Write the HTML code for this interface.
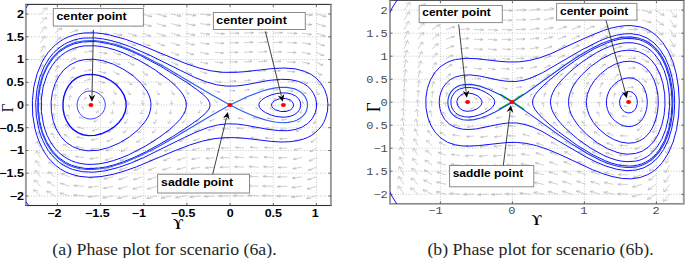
<!DOCTYPE html>
<html><head><meta charset="utf-8"><title>Phase plots</title>
<style>html,body{margin:0;padding:0;background:#fff;width:685px;height:258px;overflow:hidden}svg{display:block}</style>
</head><body>
<svg width="685" height="258" viewBox="0 0 685 258">
<defs><clipPath id="ca"><rect x="25.90" y="4.40" width="305.00" height="201.10"/></clipPath><clipPath id="cb"><rect x="390.00" y="0.00" width="293.80" height="203.80"/></clipPath><clipPath id="cg"><ellipse cx="512" cy="102" rx="17" ry="11"/></clipPath></defs>
<rect width="685" height="258" fill="#fff"/>
<rect x="24.95" y="3.85" width="306.90" height="1.1" fill="#303030"/><rect x="24.95" y="204.95" width="306.90" height="1.1" fill="#303030"/><rect x="24.95" y="4.40" width="1.9" height="201.10" fill="#9a9a9a"/><rect x="329.95" y="4.40" width="1.9" height="201.10" fill="#9a9a9a"/>
<rect x="389.05" y="0.00" width="295.70" height="0.9" fill="#404040"/><rect x="389.05" y="203.00" width="295.70" height="1.6" fill="#8a8a8a"/><rect x="389.05" y="0.50" width="1.9" height="203.30" fill="#9a9a9a"/><rect x="682.85" y="0.50" width="1.9" height="203.30" fill="#9a9a9a"/>
<g clip-path="url(#ca)">
<path d="M57.4,4.4V205.5M100.6,4.4V205.5M143.8,4.4V205.5M186.9,4.4V205.5M230.1,4.4V205.5M273.3,4.4V205.5M316.4,4.4V205.5M25.9,196.0H330.9M25.9,173.2H330.9M25.9,150.5H330.9M25.9,127.7H330.9M25.9,105.0H330.9M25.9,82.3H330.9M25.9,59.5H330.9M25.9,36.8H330.9M25.9,14.0H330.9" stroke="#b4b4b4" stroke-width="0.8" stroke-dasharray="0.9 1.75" fill="none"/>
<path d="M40.4,14.0L47.0,7.8M42.5,9.1L47.0,7.8L47.2,10.5M40.4,23.6L46.4,17.3M42.1,18.7L46.4,17.3L46.8,20.0M40.4,33.1L45.8,26.7M41.6,28.3L45.8,26.7L46.4,29.4M40.4,42.7L45.1,36.2M41.1,37.9L45.1,36.2L46.0,38.9M40.4,52.3L44.5,45.7M40.7,47.5L44.5,45.7L45.6,48.3M40.4,61.9L43.8,55.2M40.2,57.1L43.8,55.2L45.2,57.8M40.4,71.4L43.0,64.7M39.7,66.7L43.0,64.7L44.7,67.2M40.4,81.0L42.3,74.3M39.2,76.3L42.3,74.3L44.2,76.7M40.4,90.6L41.6,83.8M38.6,85.9L41.6,83.8L43.7,86.2M40.4,100.2L40.8,93.4M38.1,95.6L40.8,93.4L43.2,95.7M40.4,109.7L40.0,103.0M37.6,105.2L40.0,103.0L42.7,105.2M40.4,119.3L39.3,112.5M37.1,114.9L39.3,112.5L42.2,114.7M40.4,128.9L38.5,122.1M36.6,124.6L38.5,122.1L41.7,124.2M40.4,138.5L37.8,131.8M36.2,134.3L37.8,131.8L41.2,133.7M40.4,148.0L37.1,141.4M35.7,143.9L37.1,141.4L40.7,143.2M40.4,157.6L36.4,151.1M35.3,153.6L36.4,151.1L40.2,152.8M40.4,167.2L35.7,160.7M34.8,163.3L35.7,160.7L39.7,162.4M40.4,176.8L35.1,170.4M34.4,173.0L35.1,170.4L39.2,171.9M40.4,186.3L34.4,180.0M34.1,182.8L34.4,180.0L38.8,181.5M40.4,195.9L33.8,189.7M33.7,192.5L33.8,189.7L38.3,191.1M54.9,14.0L63.1,9.2M58.6,10.0L63.1,9.2L62.2,11.7M54.9,23.6L62.5,18.7M58.2,19.5L62.5,18.7L61.8,21.1M54.9,33.1L61.8,28.1M57.6,29.0L61.8,28.1L61.4,30.5M54.9,42.7L61.1,37.5M57.1,38.6L61.1,37.5L61.0,39.9M54.9,52.3L60.3,47.0M56.5,48.2L60.3,47.0L60.5,49.3M54.9,61.9L59.4,56.4M55.9,57.7L59.4,56.4L60.0,58.7M54.9,71.4L58.5,65.9M55.2,67.3L58.5,65.9L59.4,68.1M54.9,81.0L57.5,75.3M54.5,76.9L57.5,75.3L58.8,77.5M54.9,90.6L56.5,84.8M53.8,86.6L56.5,84.8L58.2,86.9M54.9,100.2L55.5,94.4M53.1,96.2L55.5,94.4L57.5,96.3M54.9,109.7L54.4,104.0M52.4,105.9L54.4,104.0L56.8,105.8M54.9,119.3L53.4,113.6M51.7,115.6L53.4,113.6L56.1,115.3M54.9,128.9L52.4,123.2M51.1,125.4L52.4,123.2L55.4,124.8M54.9,138.5L51.4,132.9M50.5,135.1L51.4,132.9L54.7,134.4M54.9,148.0L50.5,142.6M49.9,144.8L50.5,142.6L54.0,143.9M54.9,157.6L49.6,152.3M49.4,154.6L49.6,152.3L53.4,153.5M54.9,167.2L48.8,162.0M48.9,164.4L48.8,162.0L52.8,163.1M54.9,176.8L48.1,171.7M48.5,174.1L48.1,171.7L52.3,172.7M54.9,186.3L47.4,181.5M48.1,183.9L47.4,181.5L51.7,182.3M54.9,195.9L46.8,191.2M47.7,193.6L46.8,191.2L51.3,191.9M69.5,14.0L79.2,11.1M74.9,11.0L79.2,11.1L77.1,13.1M69.5,23.6L78.7,20.5M74.5,20.6L78.7,20.5L76.8,22.5M69.5,33.1L78.1,29.9M74.0,30.1L78.1,29.9L76.4,31.9M69.5,42.7L77.4,39.3M73.5,39.6L77.4,39.3L76.1,41.3M69.5,52.3L76.6,48.7M72.9,49.1L76.6,48.7L75.6,50.6M69.5,61.9L75.7,58.0M72.2,58.6L75.7,58.0L75.1,59.9M69.5,71.4L74.6,67.3M71.4,68.2L74.6,67.3L74.5,69.2M69.5,81.0L73.3,76.7M70.4,77.7L73.3,76.7L73.7,78.5M69.5,90.6L71.9,86.1M69.4,87.3L71.9,86.1L72.8,87.8M69.5,100.2L70.3,95.6M68.3,97.0L70.3,95.6L71.8,97.2M69.5,109.7L68.7,105.1M67.2,106.7L68.7,105.1L70.7,106.6M69.5,119.3L67.1,114.8M66.2,116.5L67.1,114.8L69.5,116.0M69.5,128.9L65.6,124.6M65.3,126.4L65.6,124.6L68.5,125.6M69.5,138.5L64.3,134.4M64.5,136.3L64.3,134.4L67.6,135.2M69.5,148.0L63.3,144.2M63.9,146.1L63.3,144.2L66.8,144.8M69.5,157.6L62.3,154.0M63.3,155.9L62.3,154.0L66.1,154.5M69.5,167.2L61.6,163.8M62.9,165.7L61.6,163.8L65.5,164.1M69.5,176.8L60.9,173.6M62.5,175.5L60.9,173.6L64.9,173.7M69.5,186.3L60.3,183.3M62.2,185.3L60.3,183.3L64.5,183.4M69.5,195.9L59.8,193.1M61.9,195.0L59.8,193.1L64.0,193.0M84.0,14.0L94.6,13.2M90.8,12.3L94.6,13.2L91.4,14.5M84.0,23.6L94.2,22.7M90.5,21.9L94.2,22.7L91.1,24.0M84.0,33.1L93.7,32.2M90.2,31.5L93.7,32.2L90.9,33.5M84.0,42.7L93.2,41.7M89.8,41.1L93.2,41.7L90.6,43.0M84.0,52.3L92.7,51.1M89.4,50.6L92.7,51.1L90.3,52.4M84.0,61.9L92.1,60.6M88.9,60.1L92.1,60.6L89.9,61.8M84.0,71.4L91.3,69.9M88.3,69.7L91.3,69.9L89.5,71.2M84.0,81.0L90.3,79.2M87.5,79.1L90.3,79.2L88.9,80.4M84.0,90.6L88.7,88.3M86.3,88.6L88.7,88.3L88.0,89.6M84.0,100.2L86.0,97.3M84.3,98.1L86.0,97.3L86.4,98.5M84.0,109.7L82.1,106.9M81.6,108.0L82.1,106.9L83.8,107.6M84.0,119.3L79.3,117.0M80.0,118.3L79.3,117.0L81.7,117.3M84.0,128.9L77.7,127.1M79.1,128.3L77.7,127.1L80.5,127.0M84.0,138.5L76.7,137.0M78.5,138.2L76.7,137.0L79.7,136.7M84.0,148.0L75.9,146.7M78.1,148.0L75.9,146.7L79.1,146.3M84.0,157.6L75.3,156.5M77.7,157.8L75.3,156.5L78.6,155.9M84.0,167.2L74.7,166.2M77.4,167.5L74.7,166.2L78.2,165.5M84.0,176.8L74.3,175.8M77.1,177.2L74.3,175.8L77.8,175.1M84.0,186.3L73.8,185.5M76.9,186.8L73.8,185.5L77.5,184.7M84.0,195.9L73.4,195.1M76.6,196.5L73.4,195.1L77.2,194.3M98.5,14.0L109.1,14.8M105.9,13.4L109.1,14.8L105.3,15.6M98.5,23.6L108.7,24.5M105.7,23.1L108.7,24.5L105.0,25.2M98.5,33.1L108.2,34.1M105.4,32.8L108.2,34.1L104.7,34.8M98.5,42.7L107.8,43.8M105.1,42.5L107.8,43.8L104.3,44.4M98.5,52.3L107.2,53.5M104.8,52.2L107.2,53.5L103.9,54.0M98.5,61.9L106.6,63.2M104.4,61.9L106.6,63.2L103.4,63.6M98.5,71.4L105.8,73.0M104.0,71.7L105.8,73.0L102.8,73.3M98.5,81.0L104.7,82.9M103.4,81.6L104.7,82.9L102.0,82.9M98.5,90.6L103.2,93.0M102.5,91.7L103.2,93.0L100.7,92.7M98.5,100.2L100.4,103.1M100.9,101.9L100.4,103.1L98.7,102.3M98.5,109.7L96.6,112.7M98.4,111.9L96.6,112.7L96.2,111.5M98.5,119.3L93.9,121.7M96.3,121.4L93.9,121.7L94.5,120.4M98.5,128.9L92.3,130.8M95.1,130.8L92.3,130.8L93.6,129.5M98.5,138.5L91.3,140.1M94.3,140.3L91.3,140.1L93.1,138.8M98.5,148.0L90.5,149.4M93.7,149.8L90.5,149.4L92.6,148.1M98.5,157.6L89.8,158.8M93.2,159.3L89.8,158.8L92.2,157.5M98.5,167.2L89.3,168.3M92.7,168.9L89.3,168.3L91.9,167.0M98.5,176.8L88.8,177.8M92.4,178.5L88.8,177.8L91.6,176.4M98.5,186.3L88.4,187.3M92.1,188.0L88.4,187.3L91.4,185.9M98.5,195.9L88.0,196.8M91.8,197.6L88.0,196.8L91.1,195.4M113.0,14.0L123.3,15.9M120.6,14.2L123.3,15.9L119.2,16.3M113.0,23.6L122.8,25.6M120.4,23.9L122.8,25.6L118.8,25.9M113.0,33.1L122.3,35.3M120.1,33.6L122.3,35.3L118.4,35.5M113.0,42.7L121.7,45.0M119.7,43.4L121.7,45.0L118.0,45.2M113.0,52.3L121.0,54.8M119.4,53.2L121.0,54.8L117.4,54.8M113.0,61.9L120.2,64.7M118.9,63.0L120.2,64.7L116.8,64.5M113.0,71.4L119.2,74.5M118.3,72.9L119.2,74.5L116.0,74.1M113.0,81.0L117.9,84.4M117.6,82.8L117.9,84.4L115.0,83.8M113.0,90.6L116.2,94.3M116.6,92.8L116.2,94.3L113.8,93.4M113.0,100.2L114.2,104.1M115.3,102.7L114.2,104.1L112.3,102.9M113.0,109.7L111.9,113.7M113.8,112.5L111.9,113.7L110.8,112.3M113.0,119.3L109.9,123.0M112.3,122.1L109.9,123.0L109.5,121.5M113.0,128.9L108.2,132.3M111.1,131.7L108.2,132.3L108.5,130.7M113.0,138.5L106.9,141.6M110.1,141.2L106.9,141.6L107.8,139.9M113.0,148.0L105.9,150.8M109.3,150.7L105.9,150.8L107.2,149.2M113.0,157.6L105.0,160.2M108.6,160.2L105.0,160.2L106.7,158.5M113.0,167.2L104.4,169.5M108.1,169.7L104.4,169.5L106.3,167.9M113.0,176.8L103.8,178.9M107.7,179.2L103.8,178.9L106.0,177.3M113.0,186.3L103.3,188.4M107.3,188.7L103.3,188.4L105.7,186.7M113.0,195.9L102.8,197.8M106.9,198.3L102.8,197.8L105.5,196.1M127.6,14.0L137.5,16.4M135.2,14.6L137.5,16.4L133.3,16.6M127.6,23.6L137.0,26.1M134.9,24.3L137.0,26.1L132.9,26.3M127.6,33.1L136.5,35.9M134.6,34.0L136.5,35.9L132.5,35.9M127.6,42.7L135.8,45.6M134.2,43.8L135.8,45.6L132.0,45.5M127.6,52.3L135.1,55.4M133.8,53.6L135.1,55.4L131.4,55.2M127.6,61.9L134.2,65.3M133.3,63.4L134.2,65.3L130.7,64.8M127.6,71.4L133.1,75.1M132.7,73.3L133.1,75.1L129.9,74.5M127.6,81.0L131.9,85.0M131.9,83.2L131.9,85.0L129.0,84.1M127.6,90.6L130.3,94.8M131.0,93.1L130.3,94.8L127.8,93.7M127.6,100.2L128.5,104.5M129.8,103.0L128.5,104.5L126.6,103.2M127.6,109.7L126.6,114.1M128.6,112.7L126.6,114.1L125.3,112.5M127.6,119.3L124.9,123.5M127.3,122.4L124.9,123.5L124.2,121.8M127.6,128.9L123.3,132.8M126.2,132.0L123.3,132.8L123.2,131.1M127.6,138.5L122.0,142.1M125.2,141.5L122.0,142.1L122.5,140.4M127.6,148.0L120.9,151.5M124.4,151.0L120.9,151.5L121.8,149.6M127.6,157.6L120.0,160.8M123.7,160.5L120.0,160.8L121.3,159.0M127.6,167.2L119.3,170.1M123.1,170.0L119.3,170.1L120.9,168.3M127.6,176.8L118.7,179.5M122.6,179.5L118.7,179.5L120.6,177.7M127.6,186.3L118.1,188.9M122.2,189.1L118.1,188.9L120.3,187.1M127.6,195.9L117.6,198.3M121.8,198.6L117.6,198.3L120.0,196.5M142.1,14.0L152.0,16.6M149.7,14.7L152.0,16.6L147.7,16.7M142.1,23.6L151.5,26.3M149.4,24.4L151.5,26.3L147.3,26.4M142.1,33.1L150.9,36.1M149.1,34.2L150.9,36.1L146.9,36.0M142.1,42.7L150.2,45.8M148.7,44.0L150.2,45.8L146.4,45.6M142.1,52.3L149.5,55.6M148.3,53.8L149.5,55.6L145.8,55.3M142.1,61.9L148.6,65.5M147.8,63.6L148.6,65.5L145.1,64.9M142.1,71.4L147.5,75.3M147.2,73.5L147.5,75.3L144.3,74.6M142.1,81.0L146.2,85.1M146.4,83.3L146.2,85.1L143.3,84.2M142.1,90.6L144.7,94.9M145.5,93.2L144.7,94.9L142.2,93.7M142.1,100.2L143.0,104.6M144.4,103.0L143.0,104.6L141.0,103.2M142.1,109.7L141.2,114.2M143.2,112.8L141.2,114.2L139.8,112.6M142.1,119.3L139.5,123.6M142.0,122.5L139.5,123.6L138.7,121.9M142.1,128.9L138.0,133.0M140.9,132.1L138.0,133.0L137.8,131.2M142.1,138.5L136.7,142.3M139.9,141.6L136.7,142.3L137.0,140.5M142.1,148.0L135.6,151.6M139.1,151.1L135.6,151.6L136.4,149.8M142.1,157.6L134.7,161.0M138.4,160.6L134.7,161.0L135.9,159.1M142.1,167.2L134.0,170.3M137.8,170.1L134.0,170.3L135.5,168.4M142.1,176.8L133.3,179.7M137.3,179.7L133.3,179.7L135.1,177.8M142.1,186.3L132.7,189.1M136.9,189.2L132.7,189.1L134.8,187.2M142.1,195.9L132.2,198.5M136.5,198.7L132.2,198.5L134.5,196.6M156.6,14.0L166.5,16.5M164.2,14.6L166.5,16.5L162.3,16.7M156.6,23.6L166.0,26.2M163.9,24.4L166.0,26.2L161.9,26.3M156.6,33.1L165.5,36.0M163.6,34.1L165.5,36.0L161.5,36.0M156.6,42.7L164.8,45.7M163.3,43.9L164.8,45.7L161.0,45.6M156.6,52.3L164.1,55.5M162.8,53.7L164.1,55.5L160.4,55.2M156.6,61.9L163.2,65.4M162.3,63.5L163.2,65.4L159.7,64.9M156.6,71.4L162.1,75.2M161.7,73.4L162.1,75.2L158.9,74.5M156.6,81.0L160.8,85.0M160.9,83.3L160.8,85.0L157.9,84.1M156.6,90.6L159.3,94.8M160.0,93.2L159.3,94.8L156.8,93.7M156.6,100.2L157.5,104.5M158.9,103.0L157.5,104.5L155.6,103.2M156.6,109.7L155.7,114.1M157.7,112.8L155.7,114.1L154.4,112.6M156.6,119.3L154.0,123.6M156.4,122.4L154.0,123.6L153.2,121.9M156.6,128.9L152.4,132.9M155.3,132.0L152.4,132.9L152.3,131.2M156.6,138.5L151.1,142.2M154.4,141.6L151.1,142.2L151.5,140.4M156.6,148.0L150.1,151.5M153.5,151.1L150.1,151.5L150.9,149.7M156.6,157.6L149.2,160.9M152.8,160.6L149.2,160.9L150.4,159.0M156.6,167.2L148.4,170.2M152.3,170.1L148.4,170.2L150.0,168.4M156.6,176.8L147.8,179.6M151.7,179.6L147.8,179.6L149.6,177.7M156.6,186.3L147.2,189.0M151.3,189.1L147.2,189.0L149.3,187.1M156.6,195.9L146.7,198.4M150.9,198.6L146.7,198.4L149.0,196.6M171.1,14.0L181.2,16.2M178.7,14.4L181.2,16.2L177.1,16.5M171.1,23.6L180.7,25.9M178.5,24.1L180.7,25.9L176.7,26.1M171.1,33.1L180.2,35.6M178.2,33.9L180.2,35.6L176.3,35.8M171.1,42.7L179.6,45.4M177.8,43.6L179.6,45.4L175.8,45.4M171.1,52.3L178.9,55.2M177.4,53.4L178.9,55.2L175.2,55.0M171.1,61.9L178.0,65.0M176.9,63.3L178.0,65.0L174.6,64.7M171.1,71.4L177.0,74.9M176.3,73.1L177.0,74.9L173.7,74.4M171.1,81.0L175.6,84.8M175.6,83.0L175.6,84.8L172.8,84.0M171.1,90.6L174.0,94.6M174.6,93.0L174.0,94.6L171.6,93.6M171.1,100.2L172.2,104.3M173.4,102.9L172.2,104.3L170.2,103.1M171.1,109.7L170.1,113.9M172.0,112.6L170.1,113.9L168.9,112.4M171.1,119.3L168.3,123.3M170.7,122.3L168.3,123.3L167.7,121.7M171.1,128.9L166.6,132.6M169.5,131.9L166.6,132.6L166.7,130.9M171.1,138.5L165.3,141.9M168.5,141.4L165.3,141.9L165.9,140.2M171.1,148.0L164.3,151.2M167.7,150.9L164.3,151.2L165.3,149.5M171.1,157.6L163.4,160.5M167.1,160.4L163.4,160.5L164.9,158.8M171.1,167.2L162.7,169.9M166.5,169.9L162.7,169.9L164.5,168.1M171.1,176.8L162.1,179.3M166.0,179.4L162.1,179.3L164.1,177.5M171.1,186.3L161.5,188.7M165.6,188.9L161.5,188.7L163.8,186.9M171.1,195.9L161.1,198.1M165.2,198.5L161.1,198.1L163.6,196.4M185.7,14.0L196.0,15.7M193.2,14.1L196.0,15.7L191.9,16.2M185.7,23.6L195.5,25.4M193.0,23.8L195.5,25.4L191.6,25.8M185.7,33.1L195.0,35.1M192.7,33.5L195.0,35.1L191.2,35.4M185.7,42.7L194.4,44.9M192.4,43.2L194.4,44.9L190.7,45.1M185.7,52.3L193.8,54.7M192.0,53.0L193.8,54.7L190.2,54.7M185.7,61.9L193.0,64.5M191.6,62.8L193.0,64.5L189.6,64.4M185.7,71.4L192.0,74.3M191.0,72.7L192.0,74.3L188.8,74.0M185.7,81.0L190.7,84.3M190.3,82.7L190.7,84.3L187.8,83.7M185.7,90.6L189.0,94.2M189.3,92.6L189.0,94.2L186.6,93.3M185.7,100.2L186.9,104.0M187.9,102.6L186.9,104.0L185.0,102.8M185.7,109.7L184.5,113.6M186.3,112.4L184.5,113.6L183.4,112.2M185.7,119.3L182.3,122.9M184.8,122.1L182.3,122.9L182.1,121.4M185.7,128.9L180.6,132.1M183.5,131.6L180.6,132.1L181.1,130.5M185.7,138.5L179.3,141.4M182.5,141.1L179.3,141.4L180.3,139.8M185.7,148.0L178.3,150.7M181.7,150.6L178.3,150.7L179.8,149.0M185.7,157.6L177.5,160.0M181.1,160.1L177.5,160.0L179.3,158.4M185.7,167.2L176.9,169.4M180.6,169.6L176.9,169.4L179.0,167.7M185.7,176.8L176.3,178.8M180.2,179.1L176.3,178.8L178.6,177.1M185.7,186.3L175.8,188.2M179.8,188.6L175.8,188.2L178.4,186.6M185.7,195.9L175.4,197.7M179.4,198.2L175.4,197.7L178.1,196.0M200.2,14.0L210.7,15.1M207.6,13.7L210.7,15.1L206.8,15.9M200.2,23.6L210.3,24.8M207.4,23.3L210.3,24.8L206.5,25.4M200.2,33.1L209.8,34.5M207.1,33.0L209.8,34.5L206.1,35.0M200.2,42.7L209.3,44.2M206.8,42.8L209.3,44.2L205.7,44.7M200.2,52.3L208.7,53.9M206.5,52.5L208.7,53.9L205.3,54.3M200.2,61.9L208.0,63.7M206.1,62.3L208.0,63.7L204.7,63.9M200.2,71.4L207.1,73.5M205.6,72.1L207.1,73.5L204.1,73.6M200.2,81.0L206.0,83.5M205.0,82.1L206.0,83.5L203.1,83.3M200.2,90.6L204.3,93.5M204.0,92.1L204.3,93.5L201.8,93.0M200.2,100.2L201.8,103.5M202.5,102.2L201.8,103.5L200.0,102.5M200.2,109.7L198.7,113.0M200.4,112.1L198.7,113.0L197.9,111.8M200.2,119.3L196.1,122.2M198.5,121.7L196.1,122.2L196.4,120.8M200.2,128.9L194.4,131.4M197.2,131.1L194.4,131.4L195.4,129.9M200.2,138.5L193.2,140.6M196.3,140.6L193.2,140.6L194.7,139.2M200.2,148.0L192.4,149.9M195.6,150.1L192.4,149.9L194.3,148.5M200.2,157.6L191.7,159.3M195.1,159.6L191.7,159.3L193.9,157.8M200.2,167.2L191.1,168.7M194.7,169.1L191.1,168.7L193.5,167.2M200.2,176.8L190.6,178.1M194.3,178.7L190.6,178.1L193.2,176.7M200.2,186.3L190.1,187.6M193.9,188.2L190.1,187.6L193.0,186.1M200.2,195.9L189.7,197.1M193.6,197.8L189.7,197.1L192.7,195.6M214.7,14.0L225.3,14.5M222.0,13.3L225.3,14.5L221.6,15.5M214.7,23.6L224.9,24.2M221.8,22.9L224.9,24.2L221.3,25.0M214.7,33.1L224.5,33.8M221.5,32.6L224.5,33.8L221.0,34.6M214.7,42.7L224.0,43.4M221.2,42.2L224.0,43.4L220.7,44.2M214.7,52.3L223.5,53.1M220.9,51.9L223.5,53.1L220.3,53.7M214.7,61.9L222.9,62.8M220.5,61.6L222.9,62.8L219.8,63.3M214.7,71.4L222.2,72.5M220.1,71.4L222.2,72.5L219.3,72.9M214.7,81.0L221.2,82.3M219.6,81.2L221.2,82.3L218.6,82.6M214.7,90.6L219.9,92.3M218.8,91.2L219.9,92.3L217.5,92.3M214.7,100.2L217.1,102.6M217.2,101.5L217.1,102.6L215.4,102.0M214.7,109.7L212.3,112.2M214.0,111.6L212.3,112.2L212.2,111.1M214.7,119.3L209.6,121.1M211.9,121.0L209.6,121.1L210.6,120.0M214.7,128.9L208.2,130.2M210.8,130.5L208.2,130.2L209.8,129.1M214.7,138.5L207.3,139.6M210.1,140.0L207.3,139.6L209.3,138.4M214.7,148.0L206.5,149.0M209.6,149.5L206.5,149.0L208.9,147.8M214.7,157.6L205.9,158.4M209.1,159.1L205.9,158.4L208.5,157.3M214.7,167.2L205.4,167.9M208.7,168.7L205.4,167.9L208.2,166.7M214.7,176.8L204.9,177.4M208.4,178.2L204.9,177.4L207.9,176.2M214.7,186.3L204.5,187.0M208.1,187.8L204.5,187.0L207.6,185.7M214.7,195.9L204.1,196.5M207.8,197.4L204.1,196.5L207.4,195.2M229.2,14.0L239.9,14.0M236.4,12.9L239.9,14.0L236.4,15.1M229.2,23.6L239.5,23.6M236.1,22.5L239.5,23.6L236.1,24.6M229.2,33.1L239.1,33.2M235.8,32.1L239.1,33.2L235.8,34.2M229.2,42.7L238.6,42.7M235.5,41.8L238.6,42.7L235.5,43.7M229.2,52.3L238.1,52.3M235.2,51.4L238.1,52.3L235.2,53.2M229.2,61.9L237.5,61.9M234.8,61.0L237.5,61.9L234.8,62.8M229.2,71.4L236.9,71.5M234.4,70.7L236.9,71.5L234.3,72.3M229.2,81.0L236.1,81.1M233.8,80.3L236.1,81.1L233.8,81.8M229.2,90.6L235.0,90.7M233.1,90.0L235.0,90.7L233.1,91.3M229.2,100.2L233.3,100.4M232.0,99.9L233.3,100.4L231.9,100.7M229.2,109.7L225.2,109.9M226.6,110.3L225.2,109.9L226.5,109.5M229.2,119.3L223.5,119.4M225.4,120.0L223.5,119.4L225.3,118.8M229.2,128.9L222.4,129.0M224.7,129.7L222.4,129.0L224.6,128.2M229.2,138.5L221.6,138.5M224.1,139.3L221.6,138.5L224.1,137.7M229.2,148.0L220.9,148.1M223.7,148.9L220.9,148.1L223.6,147.2M229.2,157.6L220.4,157.7M223.3,158.6L220.4,157.7L223.3,156.7M229.2,167.2L219.9,167.2M223.0,168.2L219.9,167.2L222.9,166.2M229.2,176.8L219.4,176.8M222.7,177.8L219.4,176.8L222.6,175.8M229.2,186.3L219.0,186.4M222.4,187.4L219.0,186.4L222.4,185.3M229.2,195.9L218.6,196.0M222.1,197.1L218.6,196.0L222.1,194.8M243.8,14.0L254.4,13.6M250.7,12.6L254.4,13.6L251.0,14.8M243.8,23.6L254.0,23.2M250.5,22.2L254.0,23.2L250.8,24.4M243.8,33.1L253.6,32.7M250.2,31.8L253.6,32.7L250.5,33.9M243.8,42.7L253.1,42.2M249.9,41.4L253.1,42.2L250.2,43.4M243.8,52.3L252.6,51.8M249.5,51.0L252.6,51.8L249.9,52.9M243.8,61.9L252.0,61.3M249.1,60.6L252.0,61.3L249.5,62.3M243.8,71.4L251.3,70.7M248.6,70.2L251.3,70.7L249.1,71.8M243.8,81.0L250.5,80.1M247.9,79.7L250.5,80.1L248.6,81.1M243.8,90.6L249.3,89.4M247.0,89.2L249.3,89.4L247.9,90.4M243.8,100.2L246.7,98.3M245.0,98.6L246.7,98.3L246.5,99.2M243.8,109.7L240.8,107.8M241.1,108.8L240.8,107.8L242.5,108.1M243.8,119.3L238.3,118.1M239.6,119.1L238.3,118.1L240.5,117.9M243.8,128.9L237.0,128.0M238.9,129.0L237.0,128.0L239.6,127.6M243.8,138.5L236.2,137.8M238.4,138.8L236.2,137.8L238.9,137.2M243.8,148.0L235.5,147.4M238.0,148.5L235.5,147.4L238.4,146.8M243.8,157.6L234.9,157.1M237.6,158.2L234.9,157.1L238.0,156.3M243.8,167.2L234.4,166.7M237.3,167.9L234.4,166.7L237.7,165.9M243.8,176.8L233.9,176.3M237.0,177.5L233.9,176.3L237.3,175.5M243.8,186.3L233.5,186.0M236.8,187.2L233.5,186.0L237.0,185.0M243.8,195.9L233.1,195.6M236.5,196.8L233.1,195.6L236.8,194.6M258.3,14.0L268.9,13.5M265.2,12.5L268.9,13.5L265.6,14.7M258.3,23.6L268.5,23.0M264.9,22.1L268.5,23.0L265.3,24.2M258.3,33.1L268.1,32.5M264.6,31.7L268.1,32.5L265.1,33.7M258.3,42.7L267.6,42.0M264.3,41.3L267.6,42.0L264.8,43.2M258.3,52.3L267.1,51.5M263.9,50.9L267.1,51.5L264.5,52.7M258.3,61.9L266.5,61.0M263.5,60.4L266.5,61.0L264.1,62.1M258.3,71.4L265.8,70.4M262.9,70.0L265.8,70.4L263.7,71.6M258.3,81.0L264.9,79.8M262.2,79.5L264.9,79.8L263.2,80.9M258.3,90.6L263.5,89.0M261.2,89.0L263.5,89.0L262.4,90.1M258.3,100.2L260.8,97.8M259.1,98.3L260.8,97.8L260.9,98.9M258.3,109.7L255.8,107.4M255.7,108.4L255.8,107.4L257.5,107.9M258.3,119.3L253.1,117.7M254.2,118.8L253.1,117.7L255.4,117.7M258.3,128.9L251.7,127.7M253.4,128.8L251.7,127.7L254.3,127.4M258.3,138.5L250.8,137.5M252.9,138.6L250.8,137.5L253.6,137.0M258.3,148.0L250.1,147.2M252.5,148.3L250.1,147.2L253.1,146.6M258.3,157.6L249.5,156.9M252.1,158.0L249.5,156.9L252.7,156.2M258.3,167.2L249.0,166.5M251.8,167.7L249.0,166.5L252.3,165.8M258.3,176.8L248.5,176.2M251.5,177.4L248.5,176.2L251.9,175.3M258.3,186.3L248.1,185.8M251.2,187.0L248.1,185.8L251.6,184.9M258.3,195.9L247.7,195.4M251.0,196.7L247.7,195.4L251.4,194.5M272.8,14.0L283.4,13.6M279.8,12.6L283.4,13.6L280.1,14.8M272.8,23.6L283.0,23.2M279.5,22.2L283.0,23.2L279.8,24.4M272.8,33.1L282.6,32.7M279.2,31.8L282.6,32.7L279.5,33.9M272.8,42.7L282.2,42.2M278.9,41.4L282.2,42.2L279.3,43.4M272.8,52.3L281.7,51.8M278.5,51.0L281.7,51.8L278.9,52.9M272.8,61.9L281.1,61.3M278.1,60.6L281.1,61.3L278.6,62.3M272.8,71.4L280.4,70.7M277.6,70.2L280.4,70.7L278.1,71.8M272.8,81.0L279.5,80.1M277.0,79.7L279.5,80.1L277.6,81.1M272.8,90.6L278.3,89.4M276.0,89.2L278.3,89.4L276.9,90.4M272.8,100.2L275.8,98.3M274.1,98.6L275.8,98.3L275.5,99.2M272.8,109.7L269.9,107.8M270.1,108.8L269.9,107.8L271.6,108.1M272.8,119.3L267.3,118.1M268.7,119.1L267.3,118.1L269.6,117.9M272.8,128.9L266.1,128.0M268.0,129.0L266.1,128.0L268.6,127.6M272.8,138.5L265.2,137.8M267.5,138.8L265.2,137.8L268.0,137.2M272.8,148.0L264.5,147.4M267.0,148.5L264.5,147.4L267.5,146.8M272.8,157.6L264.0,157.1M266.7,158.2L264.0,157.1L267.1,156.3M272.8,167.2L263.5,166.7M266.4,167.9L263.5,166.7L266.7,165.9M272.8,176.8L263.0,176.3M266.1,177.5L263.0,176.3L266.4,175.5M272.8,186.3L262.6,186.0M265.8,187.2L262.6,186.0L266.1,185.0M272.8,195.9L262.2,195.6M265.6,196.8L262.2,195.6L265.8,194.6M287.3,14.0L298.0,14.2M294.5,13.0L298.0,14.2L294.4,15.2M287.3,23.6L297.6,23.8M294.3,22.6L297.6,23.8L294.1,24.8M287.3,33.1L297.2,33.4M294.0,32.3L297.2,33.4L293.8,34.3M287.3,42.7L296.7,42.9M293.7,41.9L296.7,42.9L293.5,43.8M287.3,52.3L296.2,52.6M293.4,51.5L296.2,52.6L293.2,53.4M287.3,61.9L295.6,62.2M293.0,61.2L295.6,62.2L292.8,62.9M287.3,71.4L295.0,71.8M292.6,70.9L295.0,71.8L292.3,72.5M287.3,81.0L294.1,81.5M292.1,80.6L294.1,81.5L291.7,82.0M287.3,90.6L293.0,91.2M291.4,90.4L293.0,91.2L290.9,91.6M287.3,100.2L290.9,101.4M290.2,100.6L290.9,101.4L289.3,101.3M287.3,109.7L283.8,111.0M285.4,110.9L283.8,111.0L284.5,110.2M287.3,119.3L281.6,120.0M283.8,120.3L281.6,120.0L283.3,119.2M287.3,128.9L280.5,129.4M282.9,129.9L280.5,129.4L282.6,128.5M287.3,138.5L279.7,138.8M282.4,139.5L279.7,138.8L282.1,137.9M287.3,148.0L279.0,148.4M281.9,149.1L279.0,148.4L281.7,147.4M287.3,157.6L278.5,157.9M281.5,158.7L278.5,157.9L281.3,156.9M287.3,167.2L278.0,167.4M281.1,168.3L278.0,167.4L281.0,166.4M287.3,176.8L277.5,177.0M280.8,177.9L277.5,177.0L280.7,175.9M287.3,186.3L277.1,186.6M280.5,187.6L277.1,186.6L280.4,185.4M287.3,195.9L276.7,196.1M280.3,197.2L276.7,196.1L280.1,194.9M301.9,14.0L312.3,15.2M309.3,13.7L312.3,15.2L308.4,15.9M301.9,23.6L311.9,24.8M309.1,23.4L311.9,24.8L308.1,25.5M301.9,33.1L311.5,34.5M308.8,33.1L311.5,34.5L307.8,35.1M301.9,42.7L310.9,44.2M308.5,42.8L310.9,44.2L307.4,44.7M301.9,52.3L310.4,54.0M308.2,52.5L310.4,54.0L306.9,54.3M301.9,61.9L309.7,63.7M307.8,62.3L309.7,63.7L306.4,63.9M301.9,71.4L308.8,73.6M307.3,72.1L308.8,73.6L305.7,73.6M301.9,81.0L307.6,83.5M306.7,82.1L307.6,83.5L304.8,83.3M301.9,90.6L305.9,93.5M305.7,92.1L305.9,93.5L303.5,93.0M301.9,100.2L303.4,103.5M304.1,102.2L303.4,103.5L301.6,102.5M301.9,109.7L300.3,113.1M302.1,112.1L300.3,113.1L299.6,111.8M301.9,119.3L297.8,122.2M300.2,121.7L297.8,122.2L298.0,120.9M301.9,128.9L296.1,131.4M298.9,131.2L296.1,131.4L297.1,130.0M301.9,138.5L294.9,140.6M298.0,140.6L294.9,140.6L296.4,139.2M301.9,148.0L294.1,149.9M297.3,150.1L294.1,149.9L295.9,148.5M301.9,157.6L293.4,159.3M296.8,159.6L293.4,159.3L295.5,157.9M301.9,167.2L292.8,168.7M296.3,169.2L292.8,168.7L295.2,167.3M301.9,176.8L292.3,178.2M295.9,178.7L292.3,178.2L294.9,176.7M301.9,186.3L291.8,187.6M295.6,188.3L291.8,187.6L294.6,186.2M301.9,195.9L291.4,197.1M295.3,197.8L291.4,197.1L294.4,195.6M316.4,14.0L326.3,16.6M324.0,14.7L326.3,16.6L322.0,16.7M316.4,23.6L325.7,26.3M323.7,24.4L325.7,26.3L321.6,26.4M316.4,33.1L325.2,36.1M323.4,34.2L325.2,36.1L321.2,36.0M316.4,42.7L324.5,45.8M323.0,43.9L324.5,45.8L320.7,45.6M316.4,52.3L323.8,55.6M322.6,53.8L323.8,55.6L320.1,55.3M316.4,61.9L322.9,65.4M322.1,63.6L322.9,65.4L319.4,64.9M316.4,71.4L321.8,75.3M321.4,73.4L321.8,75.3L318.6,74.6M316.4,81.0L320.5,85.1M320.7,83.3L320.5,85.1L317.6,84.2M316.4,90.6L319.0,94.9M319.7,93.2L319.0,94.9L316.5,93.7M316.4,100.2L317.3,104.6M318.6,103.0L317.3,104.6L315.3,103.2M316.4,109.7L315.5,114.2M317.5,112.8L315.5,114.2L314.1,112.6M316.4,119.3L313.8,123.6M316.3,122.5L313.8,123.6L313.0,121.9M316.4,128.9L312.3,133.0M315.2,132.1L312.3,133.0L312.1,131.2M316.4,138.5L311.0,142.3M314.2,141.6L311.0,142.3L311.3,140.5M316.4,148.0L309.9,151.6M313.4,151.1L309.9,151.6L310.7,149.8M316.4,157.6L309.0,161.0M312.7,160.6L309.0,161.0L310.2,159.1M316.4,167.2L308.2,170.3M312.1,170.1L308.2,170.3L309.8,168.4M316.4,176.8L307.6,179.7M311.6,179.6L307.6,179.7L309.4,177.8M316.4,186.3L307.0,189.1M311.1,189.2L307.0,189.1L309.1,187.2M316.4,195.9L306.5,198.5M310.7,198.7L306.5,198.5L308.8,196.6" stroke="#b0b0b0" stroke-width="0.6" fill="none"/>
<g stroke="#1010ff" stroke-width="1.0" fill="none"><path d="M31.2,208.5L22.9,198.1"/><path d="M333.9,207.2L330.8,208.5"/><path d="M22.9,11.9L26.9,6.5 31.3,1.4"/><path d="M330.6,1.4L333.9,2.8"/><path d="M95.8,32.9L102.7,33.7 109.8,35 125.6,39.3 142.4,45.6 186.1,63.7 199.2,68 210.7,70.8 222.5,72.3 234.8,72.4 246.1,71.6 271.9,68.6 283.9,68 295,68.8 304.6,71.3 311.1,74.4 316.6,78.5 321.2,83.7 324.7,89.7 327,96.6 327.9,103.8 327.5,111.1 325.6,118.1 323.8,122.3 321.5,126 318.6,129.5 315.3,132.6 311.7,135.3 307.7,137.4 303.2,139.2 298.3,140.5 290.1,141.7 281,142 270.3,141.3 247.2,138.5 236.8,137.7 225.4,137.6 214.7,138.6 202.7,141 189.4,145.1 175.8,150.3 136.5,166.8 124,171.2 113.2,174.3 100.9,176.6 89.8,177.3 79.6,176.4 70.3,173.9 65.1,171.7 60.5,169 56,165.7 52,161.9 48.2,157.6 44.9,152.9 41.8,147.5 39.1,141.7 36.9,135.5 35,128.9 32.7,115 32.4,100.5 33.9,86.4 37.1,73.8 41.8,62.5 44.7,57.5 47.9,52.8 51.5,48.7 55.4,44.9 59.4,41.8 63.8,39 68.5,36.8 73.4,35.1 78.5,33.8 84,33 95.8,32.9Z"/><path d="M94.6,37.9L102.5,38.8 110.9,40.5 119.8,43 129.5,46.4 149.1,54.9 194.7,77.4 206.3,81.9 216.5,84.8 226.3,86.1 236.5,86 246.1,84.7 269,80.4 280.5,79.3 290.3,79.6 298.6,81.4 303.4,83.5 307.5,86.2 311,89.6 313.7,93.7 315.6,98.2 316.5,103 316.4,108 315.3,112.7 312.3,118.6 307.8,123.5 301.9,127.2 295,129.6 287.4,130.7 278.8,130.6 268.1,129.4 246.5,125.4 237.4,124.1 227.6,123.8 218.5,124.8 208.5,127.3 197,131.7 184.7,137.3 143.5,157.7 130.3,163.3 118.3,167.5 105.3,170.8 93.4,172.2 82.5,171.7 72.7,169.5 67.8,167.5 63.4,165.1 59.1,162.2 55.2,158.7 51.6,154.8 48.3,150.5 45.4,145.7 42.8,140.5 40.5,134.7 38.7,128.7 36.3,116 35.7,102.6 37,89.3 39.8,77.4 44.1,66.7 49.8,57.4 53.1,53.4 56.7,49.8 60.5,46.8 64.7,44.1 68.9,42 73.6,40.2 78.5,38.9 83.6,38.1 94.6,37.9Z"/><path d="M91.8,41.4L98.9,41.9 106.3,43.2 114.2,45.1 122.4,47.8 131.2,51.3 140.4,55.5 160.7,66.3 186.4,82.2 196.5,89.3 203.6,94.9 207.5,98.8 209.6,102.4 210.1,105.7 209,109 205.2,113.6 198.3,119.4 187.1,127.2 172.6,136.6 159,144.6 146.4,151.5 134.7,157.2 123.8,161.6 114.9,164.6 106.5,166.8 98.7,168.1 91.1,168.6 84.3,168.3 77.6,167.2 71.4,165.2 65.6,162.4 58.2,157.1 51.8,150.1 46.5,141.6 42.4,132 39.6,121 38.3,109.4 38.5,97.6 40.2,86.2 43.1,76 47.3,66.9 52.5,59 58.7,52.5 65.8,47.5 73.6,44 82.3,42 91.8,41.4Z"/><path d="M287,93L291.6,94.1 295.5,95.9 298.5,98.6 300.3,101.9 300.7,105.7 299.8,109.2 297.6,112.3 294.1,114.9 290.3,116.3 285.9,117.1 281,117.1 275.7,116.3 270.3,114.8 265.3,112.5 261.7,110 259.4,107.3 258.8,104.6 259.7,102.2 262,99.7 265.9,97.2 271,95 276.5,93.5 281.9,92.9 287,93Z"/><path d="M285.4,98.4L290.1,99.9 291.9,101.3 293,103 293.5,104.8 293.2,106.7 292.2,108.4 290.6,109.8 286.1,111.5 280.8,111.5 275.5,109.8 273.5,108.6 272.2,107.1 271.5,105.5 271.7,103.8 272.6,102.4 274.3,100.8 279.4,98.8 285.4,98.4Z"/><path d="M94.9,45.8L101.4,46.5 108.3,48 115.6,50.1 123,52.8 139,60.3 155,69.8 169.2,80.2 174.8,85.2 179.4,89.9 182.6,94.1 184.9,98.2 186.1,102.2 186.3,106.1 185.5,110.2 183.4,114.6 180.2,119.2 175.6,124.1 169.6,129.5 162.3,135.1 153.9,140.9 145.1,146.3 128.7,154.8 120.9,158 113.4,160.6 106,162.6 99.1,163.8 92.5,164.4 86.3,164.3 81.1,163.6 76.3,162.5 71.6,160.8 67.1,158.6 62.9,155.9 59.1,152.7 55.6,149 52.5,145 49.6,140.3 47.1,135.3 45,129.7 43.4,123.9 41.4,111.7 41.4,99 43.1,87 46.7,75.8 49.1,70.6 51.8,66.1 54.8,61.9 58.2,58.2 61.8,55 65.8,52.2 70,49.9 74.5,48.1 79.1,46.8 84.3,45.9 94.9,45.8Z"/><path d="M92.9,59.2L102.9,60.7 113.4,64.2 124,69.6 133.6,76.2 141.3,83.5 147,91.2 148.9,95.1 150.2,98.8 150.9,102.6 150.9,106.3 150.4,110 149.3,114 147.5,117.9 145,121.8 138.2,129.7 129.4,136.9 119,143.2 108.3,147.7 97.8,150.3 88,150.8 80,149.5 72.7,146.7 66.2,142.3 60.7,136.4 56.2,129 53.1,120.6 51.4,111.3 51.1,101.7 52.4,92.4 55.1,83.7 58.9,76.2 64,69.7 70,64.9 76.9,61.4 84.5,59.6 92.9,59.2Z"/></g>
<g stroke="#0a0aff" stroke-width="1.4" fill="none"><path d="M92.3,74.4L98.7,75.4 105.2,77.6 111.3,81 116.7,85.3 121,90.1 124.1,95.3 125.8,100.7 126.2,106.3 125.2,111.9 122.7,117.3 118.9,122.5 113.8,127.2 107.8,131 101.4,133.8 94.9,135.4 88.5,135.6 82.9,134.7 77.8,132.7 73.4,129.7 69.6,125.7 66.5,120.8 64.3,115.2 63.1,109.2 63,102.8 63.8,96.8 65.7,91 68.5,85.8 72,81.5 76.3,78.2 81.1,75.9 86.5,74.6 92.3,74.4Z"/></g>
<g stroke="#2020ff" stroke-width="0.85" fill="none"><path d="M92.7,91.2L95.4,91.9 98,93.1 100.3,94.7 102.3,96.8 103.8,99 104.8,101.5 105.3,104.2 105.1,106.9 104.4,109.6 103.2,112 101.4,114.3 99.1,116.2 96.5,117.7 93.8,118.6 90.9,119 88.3,118.9 85.6,118.1 83.4,117 81.4,115.4 79.6,113.3 78.3,110.9 77.4,108.2 77.1,105.5 77.3,102.6 78,99.9 79.2,97.4 80.7,95.3 82.7,93.4 84.9,92.1 87.4,91.3 90,91 92.7,91.2Z"/></g>
<g stroke="#2a5cf0" stroke-width="1.15" fill="none"><path d="M94.9,40.6L105.4,42 116.5,44.8 128.5,49.1 141.7,54.9 165.7,67.5 210.7,94.2 230,105.1 213,114.5 174.8,137.2 157.7,146.9 140.2,155.8 124.5,162.5 116,165.3 108,167.5 100.5,168.8 93.1,169.5 86.5,169.5 80,168.7 74,167.2 68.2,164.9 64,162.6 60,159.7 56.5,156.7 53,152.9 47.1,144.4 42.5,134.3 39.3,122.9 37.7,110.7 37.8,98.2 39.5,86 42.7,75.2 47.1,65.7 52.7,57.4 59.4,50.8 66.9,45.8 75.4,42.4 84.7,40.7 94.9,40.6Z"/><path d="M287,87.4L294.6,88.9 297.7,90.2 300.6,92 303,94.1 304.8,96.3 306.3,99 307.2,101.9 307.5,105.1 307.2,108.1 306.3,111.1 304.8,113.8 302.7,116.2 300.1,118.3 297.2,120 293.9,121.3 288.3,122.4 281.9,122.7 275,122 267.4,120.5 259.6,118.1 250.7,114.8 241.4,110.7 230.1,105.1 247.1,96.8 262.4,91 269.3,89.1 275.7,87.9 281.7,87.3 287,87.4Z"/></g>
</g>
<path d="M57.4,205.5v-2.5M57.4,4.4v2.5M100.6,205.5v-2.5M100.6,4.4v2.5M143.8,205.5v-2.5M143.8,4.4v2.5M186.9,205.5v-2.5M186.9,4.4v2.5M230.1,205.5v-2.5M230.1,4.4v2.5M273.3,205.5v-2.5M273.3,4.4v2.5M316.4,205.5v-2.5M316.4,4.4v2.5M25.9,196.0h2.5M330.9,196.0h-2.5M25.9,173.2h2.5M330.9,173.2h-2.5M25.9,150.5h2.5M330.9,150.5h-2.5M25.9,127.7h2.5M330.9,127.7h-2.5M25.9,105.0h2.5M330.9,105.0h-2.5M25.9,82.3h2.5M330.9,82.3h-2.5M25.9,59.5h2.5M330.9,59.5h-2.5M25.9,36.8h2.5M330.9,36.8h-2.5M25.9,14.0h2.5M330.9,14.0h-2.5" stroke="#444" stroke-width="0.8" fill="none"/>
<g clip-path="url(#cb)">
<path d="M440.4,0.5V203.8M512.4,0.5V203.8M584.4,0.5V203.8M656.4,0.5V203.8M390.0,194.3H683.8M390.0,171.2H683.8M390.0,148.2H683.8M390.0,125.2H683.8M390.0,102.2H683.8M390.0,79.2H683.8M390.0,56.2H683.8M390.0,33.2H683.8M390.0,10.1H683.8" stroke="#b4b4b4" stroke-width="0.8" stroke-dasharray="0.9 1.75" fill="none"/>
<path d="M404.0,10.2L409.9,2.3M405.5,4.1L409.9,2.3L410.4,5.6M404.0,19.9L409.4,11.8M405.1,13.8L409.4,11.8L410.1,15.2M404.0,29.5L408.8,21.4M404.7,23.5L408.8,21.4L409.7,24.7M404.0,39.2L408.2,31.0M404.3,33.2L408.2,31.0L409.3,34.3M404.0,48.9L407.6,40.6M403.8,42.9L407.6,40.6L409.0,43.8M404.0,58.6L407.0,50.2M403.4,52.6L407.0,50.2L408.6,53.4M404.0,68.3L406.3,59.9M402.9,62.3L406.3,59.9L408.1,62.9M404.0,77.9L405.7,69.5M402.5,72.1L405.7,69.5L407.7,72.5M404.0,87.6L405.0,79.2M402.0,81.8L405.0,79.2L407.3,82.1M404.0,97.3L404.3,88.8M401.6,91.6L404.3,88.8L406.8,91.7M404.0,107.0L403.7,98.5M401.1,101.4L403.7,98.5L406.4,101.3M404.0,116.7L403.0,108.2M400.7,111.1L403.0,108.2L405.9,110.9M404.0,126.4L402.3,117.9M400.3,120.9L402.3,117.9L405.5,120.5M404.0,136.0L401.7,127.6M399.8,130.7L401.7,127.6L405.0,130.1M404.0,145.7L401.0,137.4M399.4,140.5L401.0,137.4L404.6,139.8M404.0,155.4L400.4,147.1M399.0,150.3L400.4,147.1L404.2,149.4M404.0,165.1L399.8,156.9M398.6,160.1L399.8,156.9L403.7,159.1M404.0,174.8L399.2,166.6M398.3,169.9L399.2,166.6L403.3,168.7M404.0,184.4L398.6,176.4M397.9,179.7L398.6,176.4L402.9,178.4M404.0,194.1L398.1,186.2M397.6,189.6L398.1,186.2L402.5,188.1M418.0,10.2L425.4,3.9M421.0,5.0L425.4,3.9L424.9,6.9M418.0,19.9L424.8,13.4M420.5,14.7L424.8,13.4L424.5,16.4M418.0,29.5L424.1,22.9M420.0,24.3L424.1,22.9L424.1,25.9M418.0,39.2L423.4,32.5M419.5,34.0L423.4,32.5L423.7,35.4M418.0,48.9L422.7,42.0M419.0,43.7L422.7,42.0L423.3,44.9M418.0,58.6L421.9,51.6M418.4,53.4L421.9,51.6L422.8,54.4M418.0,68.3L421.1,61.1M417.8,63.1L421.1,61.1L422.3,63.9M418.0,77.9L420.2,70.7M417.2,72.8L420.2,70.7L421.7,73.4M418.0,87.6L419.3,80.4M416.6,82.6L419.3,80.4L421.1,82.9M418.0,97.3L418.4,90.0M416.0,92.4L418.4,90.0L420.5,92.5M418.0,107.0L417.5,99.7M415.4,102.2L417.5,99.7L419.9,102.0M418.0,116.7L416.6,109.4M414.8,112.0L416.6,109.4L419.3,111.6M418.0,126.4L415.8,119.1M414.3,121.8L415.8,119.1L418.7,121.2M418.0,136.0L414.9,128.9M413.7,131.6L414.9,128.9L418.1,130.9M418.0,145.7L414.1,138.7M413.2,141.5L414.1,138.7L417.5,140.5M418.0,155.4L413.3,148.5M412.7,151.4L413.3,148.5L417.0,150.2M418.0,165.1L412.6,158.3M412.3,161.2L412.6,158.3L416.4,159.9M418.0,174.8L411.9,168.1M411.8,171.1L411.9,168.1L415.9,169.6M418.0,184.4L411.2,178.0M411.4,181.0L411.2,178.0L415.4,179.3M418.0,194.1L410.6,187.8M411.1,190.8L410.6,187.8L415.0,189.0M432.0,10.2L440.9,5.8M436.6,6.1L440.9,5.8L439.3,8.4M432.0,19.9L440.3,15.3M436.2,15.8L440.3,15.3L439.0,17.9M432.0,29.5L439.7,24.8M435.7,25.4L439.7,24.8L438.6,27.3M432.0,39.2L439.0,34.2M435.1,35.0L439.0,34.2L438.2,36.8M432.0,48.9L438.2,43.7M434.5,44.6L438.2,43.7L437.7,46.2M432.0,58.6L437.3,53.1M433.8,54.3L437.3,53.1L437.2,55.6M432.0,68.3L436.3,62.6M433.1,63.9L436.3,62.6L436.6,65.0M432.0,77.9L435.1,72.1M432.3,73.6L435.1,72.1L435.9,74.4M432.0,87.6L433.9,81.6M431.4,83.4L433.9,81.6L435.1,83.9M432.0,97.3L432.6,91.2M430.5,93.2L432.6,91.2L434.3,93.3M432.0,107.0L431.3,100.9M429.7,103.0L431.3,100.9L433.4,102.8M432.0,116.7L430.0,110.7M428.8,112.9L430.0,110.7L432.5,112.4M432.0,126.4L428.8,120.5M428.0,122.8L428.8,120.5L431.7,122.0M432.0,136.0L427.7,130.4M427.3,132.8L427.7,130.4L430.9,131.7M432.0,145.7L426.7,140.3M426.7,142.7L426.7,140.3L430.1,141.4M432.0,155.4L425.8,150.2M426.2,152.7L425.8,150.2L429.4,151.1M432.0,165.1L425.0,160.1M425.7,162.6L425.0,160.1L428.8,160.8M432.0,174.8L424.3,170.0M425.3,172.5L424.3,170.0L428.3,170.6M432.0,184.4L423.6,179.9M425.0,182.4L423.6,179.9L427.8,180.3M432.0,194.1L423.0,189.8M424.6,192.3L423.0,189.8L427.3,190.1M446.0,10.2L456.0,7.9M452.0,7.4L456.0,7.9L453.4,9.9M446.0,19.9L455.5,17.4M451.6,17.0L455.5,17.4L453.1,19.4M446.0,29.5L455.0,26.9M451.2,26.6L455.0,26.9L452.8,28.9M446.0,39.2L454.4,36.4M450.8,36.3L454.4,36.4L452.5,38.4M446.0,48.9L453.8,45.8M450.2,45.9L453.8,45.8L452.1,47.8M446.0,58.6L453.0,55.2M449.6,55.4L453.0,55.2L451.7,57.2M446.0,68.3L452.0,64.6M448.8,65.0L452.0,64.6L451.1,66.5M446.0,77.9L450.7,73.9M447.9,74.6L450.7,73.9L450.4,75.8M446.0,87.6L449.1,83.2M446.7,84.3L449.1,83.2L449.4,85.0M446.0,97.3L447.1,92.6M445.2,94.0L447.1,92.6L448.2,94.3M446.0,107.0L444.9,102.3M443.8,104.0L444.9,102.3L446.7,103.7M446.0,116.7L442.9,112.2M442.5,114.1L442.9,112.2L445.3,113.3M446.0,126.4L441.2,122.3M441.5,124.2L441.2,122.3L444.1,123.0M446.0,136.0L440.0,132.3M440.8,134.3L440.0,132.3L443.1,132.8M446.0,145.7L439.0,142.3M440.2,144.3L439.0,142.3L442.3,142.6M446.0,155.4L438.2,152.3M439.8,154.3L438.2,152.3L441.7,152.3M446.0,165.1L437.5,162.3M439.4,164.3L437.5,162.3L441.2,162.1M446.0,174.8L436.9,172.1M439.1,174.1L436.9,172.1L440.7,171.9M446.0,184.4L436.4,182.0M438.8,184.0L436.4,182.0L440.3,181.6M446.0,194.1L436.0,191.8M438.6,193.9L436.0,191.8L440.0,191.3M460.0,10.2L470.3,9.6M466.7,8.4L470.3,9.6L467.1,11.1M460.0,19.9L469.9,19.2M466.4,18.1L469.9,19.2L466.9,20.7M460.0,29.5L469.5,28.8M466.1,27.8L469.5,28.8L466.6,30.3M460.0,39.2L469.1,38.4M465.8,37.5L469.1,38.4L466.3,39.8M460.0,48.9L468.6,48.0M465.4,47.2L468.6,48.0L466.0,49.4M460.0,58.6L468.0,57.6M465.0,56.9L468.0,57.6L465.6,58.9M460.0,68.3L467.3,67.1M464.5,66.5L467.3,67.1L465.2,68.4M460.0,77.9L466.4,76.5M463.8,76.1L466.4,76.5L464.7,77.8M460.0,87.6L465.1,85.7M462.8,85.7L465.1,85.7L464.0,87.0M460.0,97.3L462.4,94.5M460.7,95.1L462.4,94.5L462.5,95.8M460.0,107.0L457.5,104.2M457.5,105.4L457.5,104.2L459.2,104.8M460.0,116.7L454.8,114.7M455.9,116.0L454.8,114.7L457.1,114.7M460.0,126.4L453.5,124.9M455.2,126.2L453.5,124.9L456.1,124.6M460.0,136.0L452.6,134.8M454.7,136.2L452.6,134.8L455.4,134.3M460.0,145.7L451.9,144.7M454.3,146.0L451.9,144.7L454.9,144.0M460.0,155.4L451.3,154.5M453.9,155.9L451.3,154.5L454.5,153.7M460.0,165.1L450.8,164.3M453.6,165.7L450.8,164.3L454.1,163.4M460.0,174.8L450.4,174.0M453.3,175.5L450.4,174.0L453.8,173.1M460.0,184.4L450.0,183.8M453.1,185.3L450.0,183.8L453.5,182.7M460.0,194.1L449.6,193.5M452.8,195.0L449.6,193.5L453.2,192.4M473.9,10.2L484.3,10.5M481.0,9.1L484.3,10.5L480.8,11.7M473.9,19.9L484.0,20.2M480.8,18.8L484.0,20.2L480.6,21.4M473.9,29.5L483.6,29.9M480.5,28.6L483.6,29.9L480.3,31.0M473.9,39.2L483.1,39.6M480.2,38.3L483.1,39.6L480.0,40.7M473.9,48.9L482.6,49.4M479.9,48.1L482.6,49.4L479.6,50.3M473.9,58.6L482.0,59.1M479.5,57.9L482.0,59.1L479.2,60.0M473.9,68.3L481.4,68.9M479.1,67.7L481.4,68.9L478.7,69.6M473.9,77.9L480.6,78.7M478.6,77.6L480.6,78.7L478.1,79.3M473.9,87.6L479.4,88.7M478.0,87.7L479.4,88.7L477.3,89.0M473.9,97.3L477.2,99.2M476.7,98.2L477.2,99.2L475.5,99.0M473.9,107.0L470.8,108.9M472.4,108.7L470.8,108.9L471.2,107.9M473.9,116.7L468.5,117.8M470.6,118.1L468.5,117.8L469.9,116.7M473.9,126.4L467.3,127.1M469.8,127.7L467.3,127.1L469.3,126.0M473.9,136.0L466.5,136.7M469.2,137.4L466.5,136.7L468.8,135.5M473.9,145.7L465.8,146.2M468.7,147.1L465.8,146.2L468.4,145.0M473.9,155.4L465.3,155.9M468.3,156.8L465.3,155.9L468.0,154.6M473.9,165.1L464.8,165.5M467.9,166.5L464.8,165.5L467.7,164.2M473.9,174.8L464.3,175.1M467.6,176.2L464.3,175.1L467.4,173.8M473.9,184.4L463.9,184.8M467.3,185.9L463.9,184.8L467.1,183.4M473.9,194.1L463.5,194.4M467.1,195.7L463.5,194.4L466.9,193.0M487.9,10.2L498.3,10.8M495.1,9.3L498.3,10.8L494.7,11.9M487.9,19.9L497.9,20.5M494.8,19.0L497.9,20.5L494.4,21.6M487.9,29.5L497.5,30.3M494.6,28.8L497.5,30.3L494.1,31.2M487.9,39.2L497.1,40.0M494.3,38.6L497.1,40.0L493.8,40.9M487.9,48.9L496.6,49.8M494.0,48.4L496.6,49.8L493.4,50.6M487.9,58.6L496.0,59.6M493.6,58.2L496.0,59.6L493.0,60.3M487.9,68.3L495.3,69.4M493.2,68.1L495.3,69.4L492.5,70.0M487.9,77.9L494.4,79.4M492.7,78.1L494.4,79.4L491.8,79.7M487.9,87.6L493.1,89.5M492.0,88.3L493.1,89.5L490.8,89.6M487.9,97.3L490.4,100.1M490.4,98.8L490.4,100.1L488.7,99.5M487.9,107.0L485.5,109.8M487.2,109.2L485.5,109.8L485.4,108.5M487.9,116.7L482.8,118.6M485.1,118.6L482.8,118.6L483.9,117.3M487.9,126.4L481.5,127.8M484.1,128.1L481.5,127.8L483.2,126.5M487.9,136.0L480.6,137.2M483.4,137.8L480.6,137.2L482.7,135.9M487.9,145.7L479.9,146.7M482.9,147.4L479.9,146.7L482.2,145.4M487.9,155.4L479.3,156.3M482.4,157.1L479.3,156.3L481.9,154.9M487.9,165.1L478.8,165.9M482.1,166.8L478.8,165.9L481.6,164.5M487.9,174.8L478.4,175.5M481.7,176.5L478.4,175.5L481.3,174.0M487.9,184.4L477.9,185.1M481.4,186.1L477.9,185.1L481.0,183.6M487.9,194.1L477.6,194.7M481.2,195.8L477.6,194.7L480.8,193.2M501.9,10.2L512.3,10.6M509.0,9.1L512.3,10.6L508.8,11.8M501.9,19.9L511.9,20.3M508.8,18.9L511.9,20.3L508.5,21.4M501.9,29.5L511.5,30.0M508.5,28.6L511.5,30.0L508.2,31.1M501.9,39.2L511.1,39.7M508.2,38.4L511.1,39.7L507.9,40.7M501.9,48.9L510.6,49.5M507.9,48.2L510.6,49.5L507.5,50.4M501.9,58.6L510.0,59.2M507.5,58.0L510.0,59.2L507.1,60.1M501.9,68.3L509.3,69.0M507.1,67.8L509.3,69.0L506.7,69.7M501.9,77.9L508.5,78.9M506.6,77.8L508.5,78.9L506.0,79.4M501.9,87.6L507.3,89.0M506.0,87.8L507.3,89.0L505.1,89.2M501.9,97.3L504.9,99.5M504.6,98.4L504.9,99.5L503.3,99.1M501.9,107.0L499.0,109.2M500.6,108.8L499.0,109.2L499.3,108.1M501.9,116.7L496.5,118.0M498.7,118.2L496.5,118.0L497.9,116.9M501.9,126.4L495.3,127.3M497.8,127.8L495.3,127.3L497.2,126.2M501.9,136.0L494.5,136.8M497.2,137.5L494.5,136.8L496.7,135.6M501.9,145.7L493.8,146.4M496.7,147.2L493.8,146.4L496.3,145.1M501.9,155.4L493.3,156.0M496.3,156.9L493.3,156.0L495.9,154.7M501.9,165.1L492.8,165.6M496.0,166.6L492.8,165.6L495.6,164.3M501.9,174.8L492.3,175.2M495.6,176.3L492.3,175.2L495.3,173.9M501.9,184.4L491.9,184.9M495.3,186.0L491.9,184.9L495.1,183.5M501.9,194.1L491.5,194.5M495.1,195.7L491.5,194.5L494.8,193.1M515.9,10.2L526.3,10.0M522.8,8.7L526.3,10.0L522.9,11.4M515.9,19.9L525.9,19.7M522.6,18.5L525.9,19.7L522.7,21.0M515.9,29.5L525.5,29.3M522.3,28.2L525.5,29.3L522.4,30.6M515.9,39.2L525.1,39.0M522.0,37.9L525.1,39.0L522.1,40.2M515.9,48.9L524.6,48.7M521.7,47.6L524.6,48.7L521.8,49.8M515.9,58.6L524.0,58.3M521.3,57.4L524.0,58.3L521.4,59.4M515.9,68.3L523.4,67.9M520.8,67.1L523.4,67.9L521.0,69.0M515.9,77.9L522.6,77.5M520.3,76.8L522.6,77.5L520.5,78.5M515.9,87.6L521.5,87.0M519.5,86.5L521.5,87.0L519.9,87.9M515.9,97.3L519.6,96.2M518.0,96.1L519.6,96.2L518.7,97.0M515.9,107.0L512.3,105.8M513.1,106.7L512.3,105.8L513.8,105.8M515.9,116.7L510.3,116.1M512.0,117.0L510.3,116.1L512.3,115.6M515.9,126.4L509.2,125.9M511.3,126.9L509.2,125.9L511.6,125.2M515.9,136.0L508.4,135.7M510.8,136.8L508.4,135.7L511.0,134.9M515.9,145.7L507.8,145.4M510.4,146.6L507.8,145.4L510.6,144.5M515.9,155.4L507.2,155.1M510.0,156.3L507.2,155.1L510.2,154.1M515.9,165.1L506.7,164.9M509.7,166.1L506.7,164.9L509.8,163.8M515.9,174.8L506.3,174.6M509.4,175.8L506.3,174.6L509.5,173.4M515.9,184.4L505.9,184.3M509.1,185.6L505.9,184.3L509.3,183.0M515.9,194.1L505.5,193.9M508.9,195.3L505.5,193.9L509.0,192.7M529.9,10.2L540.2,9.2M536.5,8.2L540.2,9.2L537.1,10.9M529.9,19.9L539.9,18.8M536.3,17.9L539.9,18.8L536.9,20.4M529.9,29.5L539.4,28.4M535.9,27.6L539.4,28.4L536.6,30.0M529.9,39.2L539.0,38.0M535.6,37.3L539.0,38.0L536.3,39.6M529.9,48.9L538.4,47.5M535.2,46.9L538.4,47.5L536.0,49.1M529.9,58.6L537.8,57.0M534.7,56.6L537.8,57.0L535.7,58.6M529.9,68.3L537.0,66.5M534.1,66.2L537.0,66.5L535.2,68.0M529.9,77.9L536.0,75.8M533.4,75.7L536.0,75.8L534.7,77.3M529.9,87.6L534.5,84.9M532.2,85.2L534.5,84.9L533.8,86.4M529.9,97.3L531.8,93.9M530.2,94.8L531.8,93.9L532.2,95.3M529.9,107.0L528.0,103.6M527.6,105.0L528.0,103.6L529.7,104.5M529.9,116.7L525.3,114.0M526.0,115.4L525.3,114.0L527.7,114.3M529.9,126.4L523.8,124.2M525.1,125.7L523.8,124.2L526.5,124.1M529.9,136.0L522.8,134.2M524.6,135.7L522.8,134.2L525.7,133.9M529.9,145.7L522.0,144.2M524.1,145.7L522.0,144.2L525.1,143.7M529.9,155.4L521.4,154.0M523.8,155.6L521.4,154.0L524.6,153.4M529.9,165.1L520.9,163.9M523.5,165.4L520.9,163.9L524.2,163.1M529.9,174.8L520.4,173.6M523.2,175.2L520.4,173.6L523.9,172.8M529.9,184.4L520.0,183.4M522.9,185.0L520.0,183.4L523.6,182.5M529.9,194.1L519.6,193.2M522.7,194.8L519.6,193.2L523.3,192.2M543.9,10.2L554.1,8.4M550.2,7.7L554.1,8.4L551.3,10.3M543.9,19.9L553.6,18.0M549.8,17.4L553.6,18.0L551.0,19.8M543.9,29.5L553.2,27.5M549.5,27.0L553.2,27.5L550.7,29.3M543.9,39.2L552.6,37.0M549.1,36.6L552.6,37.0L550.4,38.8M543.9,48.9L552.0,46.5M548.6,46.2L552.0,46.5L550.1,48.3M543.9,58.6L551.3,55.9M548.0,55.8L551.3,55.9L549.7,57.7M543.9,68.3L550.4,65.2M547.3,65.4L550.4,65.2L549.2,67.0M543.9,77.9L549.1,74.5M546.3,75.0L549.1,74.5L548.5,76.3M543.9,87.6L547.5,83.7M545.1,84.5L547.5,83.7L547.5,85.4M543.9,97.3L545.2,93.0M543.4,94.3L545.2,93.0L546.1,94.6M543.9,107.0L542.6,102.7M541.7,104.3L542.6,102.7L544.4,104.0M543.9,116.7L540.3,112.7M540.3,114.5L540.3,112.7L542.7,113.6M543.9,126.4L538.7,122.9M539.3,124.7L538.7,122.9L541.5,123.4M543.9,136.0L537.4,133.0M538.6,134.8L537.4,133.0L540.5,133.2M543.9,145.7L536.5,143.0M538.1,144.8L536.5,143.0L539.8,143.0M543.9,155.4L535.8,152.9M537.7,154.8L535.8,152.9L539.2,152.7M543.9,165.1L535.2,162.8M537.4,164.7L535.2,162.8L538.7,162.5M543.9,174.8L534.6,172.7M537.1,174.6L534.6,172.7L538.3,172.2M543.9,184.4L534.2,182.5M536.8,184.4L534.2,182.5L538.0,181.9M543.9,194.1L533.7,192.3M536.5,194.2L533.7,192.3L537.6,191.6M557.9,10.2L567.8,7.7M563.8,7.3L567.8,7.7L565.3,9.8M557.9,19.9L567.4,17.2M563.4,16.9L567.4,17.2L565.0,19.3M557.9,29.5L566.8,26.7M563.0,26.5L566.8,26.7L564.8,28.8M557.9,39.2L566.2,36.2M562.5,36.1L566.2,36.2L564.4,38.2M557.9,48.9L565.6,45.6M562.0,45.7L565.6,45.6L564.0,47.7M557.9,58.6L564.7,55.0M561.4,55.3L564.7,55.0L563.6,57.0M557.9,68.3L563.7,64.3M560.6,64.9L563.7,64.3L563.0,66.4M557.9,77.9L562.4,73.7M559.6,74.5L562.4,73.7L562.3,75.6M557.9,87.6L560.8,83.0M558.4,84.2L560.8,83.0L561.3,84.9M557.9,97.3L558.9,92.5M557.1,93.9L558.9,92.5L560.1,94.2M557.9,107.0L556.9,102.1M555.7,103.9L556.9,102.1L558.7,103.6M557.9,116.7L555.0,112.0M554.5,113.9L555.0,112.0L557.4,113.2M557.9,126.4L553.4,122.1M553.5,124.0L553.4,122.1L556.2,122.9M557.9,136.0L552.1,132.1M552.8,134.1L552.1,132.1L555.2,132.7M557.9,145.7L551.1,142.1M552.2,144.2L551.1,142.1L554.4,142.4M557.9,155.4L550.2,152.1M551.7,154.2L550.2,152.1L553.8,152.2M557.9,165.1L549.5,162.0M551.3,164.1L549.5,162.0L553.2,162.0M557.9,174.8L548.9,171.9M551.0,174.0L548.9,171.9L552.8,171.7M557.9,184.4L548.4,181.8M550.7,183.9L548.4,181.8L552.4,181.5M557.9,194.1L548.0,191.6M550.5,193.7L548.0,191.6L552.0,191.2M571.9,10.2L581.6,7.2M577.5,7.0L581.6,7.2L579.3,9.4M571.9,19.9L581.1,16.7M577.1,16.6L581.1,16.7L579.0,18.9M571.9,29.5L580.6,26.2M576.7,26.2L580.6,26.2L578.7,28.4M571.9,39.2L579.9,35.7M576.2,35.8L579.9,35.7L578.4,37.9M571.9,48.9L579.2,45.1M575.6,45.4L579.2,45.1L578.0,47.3M571.9,58.6L578.3,54.5M574.9,55.0L578.3,54.5L577.5,56.6M571.9,68.3L577.3,63.8M574.1,64.6L577.3,63.8L576.9,66.0M571.9,77.9L576.0,73.2M573.2,74.2L576.0,73.2L576.1,75.3M571.9,87.6L574.5,82.6M572.1,83.9L574.5,82.6L575.2,84.6M571.9,97.3L572.8,92.1M570.9,93.7L572.8,92.1L574.1,94.0M571.9,107.0L571.0,101.8M569.7,103.6L571.0,101.8L572.9,103.4M571.9,116.7L569.3,111.7M568.6,113.6L569.3,111.7L571.7,113.0M571.9,126.4L567.8,121.6M567.6,123.7L567.8,121.6L570.6,122.6M571.9,136.0L566.5,131.6M566.9,133.7L566.5,131.6L569.6,132.4M571.9,145.7L565.4,141.6M566.3,143.8L565.4,141.6L568.8,142.1M571.9,155.4L564.6,151.6M565.8,153.8L564.6,151.6L568.2,151.9M571.9,165.1L563.8,161.5M565.4,163.7L563.8,161.5L567.6,161.7M571.9,174.8L563.2,171.4M565.0,173.6L563.2,171.4L567.1,171.4M571.9,184.4L562.6,181.3M564.7,183.5L562.6,181.3L566.7,181.2M571.9,194.1L562.2,191.2M564.5,193.4L562.2,191.2L566.3,190.9M585.9,10.2L595.5,7.1M591.4,6.9L595.5,7.1L593.3,9.3M585.9,19.9L595.0,16.6M591.0,16.5L595.0,16.6L593.0,18.8M585.9,29.5L594.5,26.1M590.6,26.1L594.5,26.1L592.7,28.3M585.9,39.2L593.8,35.5M590.0,35.7L593.8,35.5L592.3,37.7M585.9,48.9L593.1,44.9M589.5,45.3L593.1,44.9L591.9,47.2M585.9,58.6L592.2,54.3M588.8,54.9L592.2,54.3L591.4,56.5M585.9,68.3L591.1,63.7M588.0,64.5L591.1,63.7L590.8,65.9M585.9,77.9L589.9,73.1M587.1,74.2L589.9,73.1L590.1,75.2M585.9,87.6L588.4,82.5M586.0,83.9L588.4,82.5L589.2,84.5M585.9,97.3L586.7,92.0M584.8,93.7L586.7,92.0L588.1,93.9M585.9,107.0L585.0,101.7M583.7,103.6L585.0,101.7L586.9,103.3M585.9,116.7L583.3,111.5M582.6,113.6L583.3,111.5L585.8,112.9M585.9,126.4L581.9,121.5M581.7,123.6L581.9,121.5L584.7,122.6M585.9,136.0L580.6,131.5M580.9,133.6L580.6,131.5L583.8,132.3M585.9,145.7L579.5,141.4M580.3,143.7L579.5,141.4L583.0,142.1M585.9,155.4L578.7,151.4M579.8,153.6L578.7,151.4L582.3,151.8M585.9,165.1L577.9,161.4M579.4,163.6L577.9,161.4L581.7,161.6M585.9,174.8L577.3,171.3M579.0,173.5L577.3,171.3L581.2,171.3M585.9,184.4L576.7,181.2M578.7,183.4L576.7,181.2L580.7,181.1M585.9,194.1L576.2,191.0M578.4,193.3L576.2,191.0L580.4,190.8M599.9,10.2L609.6,7.4M605.5,7.1L609.6,7.4L607.3,9.5M599.9,19.9L609.2,16.9M605.2,16.7L609.2,16.9L607.0,19.0M599.9,29.5L608.6,26.4M604.7,26.3L608.6,26.4L606.7,28.5M599.9,39.2L608.0,35.8M604.3,35.9L608.0,35.8L606.4,38.0M599.9,48.9L607.3,45.2M603.7,45.5L607.3,45.2L606.0,47.4M599.9,58.6L606.4,54.6M603.0,55.1L606.4,54.6L605.5,56.8M599.9,68.3L605.4,64.0M602.2,64.7L605.4,64.0L604.9,66.1M599.9,77.9L604.1,73.3M601.3,74.3L604.1,73.3L604.1,75.4M599.9,87.6L602.6,82.7M600.2,84.0L602.6,82.7L603.2,84.7M599.9,97.3L600.8,92.2M598.9,93.8L600.8,92.2L602.1,94.0M599.9,107.0L598.9,101.9M597.7,103.7L598.9,101.9L600.8,103.5M599.9,116.7L597.2,111.8M596.5,113.7L597.2,111.8L599.6,113.0M599.9,126.4L595.6,121.7M595.6,123.8L595.6,121.7L598.5,122.7M599.9,136.0L594.3,131.7M594.8,133.8L594.3,131.7L597.5,132.5M599.9,145.7L593.3,141.7M594.2,143.9L593.3,141.7L596.7,142.2M599.9,155.4L592.4,151.7M593.7,153.9L592.4,151.7L596.0,152.0M599.9,165.1L591.7,161.7M593.3,163.8L591.7,161.7L595.5,161.8M599.9,174.8L591.1,171.6M593.0,173.7L591.1,171.6L595.0,171.5M599.9,184.4L590.6,181.5M592.7,183.6L590.6,181.5L594.6,181.3M599.9,194.1L590.1,191.3M592.4,193.5L590.1,191.3L594.2,191.0M613.8,10.2L624.0,8.3M620.0,7.6L624.0,8.3L621.2,10.2M613.8,19.9L623.5,17.8M619.7,17.3L623.5,17.8L621.0,19.7M613.8,29.5L623.1,27.3M619.3,26.9L623.1,27.3L620.7,29.2M613.8,39.2L622.5,36.8M618.9,36.5L622.5,36.8L620.4,38.7M613.8,48.9L621.9,46.3M618.4,46.1L621.9,46.3L620.0,48.2M613.8,58.6L621.1,55.7M617.8,55.7L621.1,55.7L619.6,57.5M613.8,68.3L620.2,65.0M617.1,65.3L620.2,65.0L619.1,66.9M613.8,77.9L618.9,74.3M616.1,74.8L618.9,74.3L618.4,76.1M613.8,87.6L617.3,83.5M614.9,84.4L617.3,83.5L617.4,85.3M613.8,97.3L615.1,92.9M613.3,94.2L615.1,92.9L616.0,94.5M613.8,107.0L612.6,102.6M611.7,104.2L612.6,102.6L614.4,103.9M613.8,116.7L610.5,112.6M610.3,114.3L610.5,112.6L612.8,113.5M613.8,126.4L608.8,122.7M609.3,124.5L608.8,122.7L611.6,123.2M613.8,136.0L607.5,132.8M608.6,134.6L607.5,132.8L610.6,133.0M613.8,145.7L606.6,142.8M608.1,144.7L606.6,142.8L609.9,142.8M613.8,155.4L605.8,152.7M607.7,154.6L605.8,152.7L609.3,152.6M613.8,165.1L605.2,162.7M607.3,164.6L605.2,162.7L608.8,162.4M613.8,174.8L604.6,172.5M607.0,174.4L604.6,172.5L608.4,172.1M613.8,184.4L604.2,182.4M606.7,184.3L604.2,182.4L608.0,181.8M613.8,194.1L603.7,192.2M606.5,194.1L603.7,192.2L607.7,191.5M627.8,10.2L638.2,10.0M634.8,8.8L638.2,10.0L634.9,11.4M627.8,19.9L637.9,19.7M634.5,18.5L637.9,19.7L634.6,21.0M627.8,29.5L637.5,29.3M634.2,28.2L637.5,29.3L634.3,30.6M627.8,39.2L637.0,39.0M633.9,37.9L637.0,39.0L634.1,40.2M627.8,48.9L636.5,48.7M633.6,47.6L636.5,48.7L633.7,49.8M627.8,58.6L636.0,58.3M633.2,57.4L636.0,58.3L633.4,59.4M627.8,68.3L635.3,67.9M632.7,67.1L635.3,67.9L632.9,69.0M627.8,77.9L634.5,77.5M632.2,76.8L634.5,77.5L632.4,78.5M627.8,87.6L633.5,87.1M631.4,86.5L633.5,87.1L631.8,88.0M627.8,97.3L631.5,96.2M630.0,96.1L631.5,96.2L630.7,97.0M627.8,107.0L624.2,105.8M625.0,106.7L624.2,105.8L625.7,105.8M627.8,116.7L622.2,116.1M623.9,117.0L622.2,116.1L624.3,115.6M627.8,126.4L621.2,125.9M623.2,126.9L621.2,125.9L623.5,125.2M627.8,136.0L620.4,135.7M622.7,136.8L620.4,135.7L622.9,134.9M627.8,145.7L619.7,145.4M622.3,146.6L619.7,145.4L622.5,144.5M627.8,155.4L619.2,155.2M621.9,156.3L619.2,155.2L622.1,154.1M627.8,165.1L618.7,164.9M621.6,166.1L618.7,164.9L621.8,163.8M627.8,174.8L618.2,174.6M621.3,175.8L618.2,174.6L621.5,173.4M627.8,184.4L617.8,184.3M621.1,185.6L617.8,184.3L621.2,183.0M627.8,194.1L617.4,193.9M620.8,195.3L617.4,193.9L620.9,192.7M641.8,10.2L651.8,12.7M649.2,10.6L651.8,12.7L647.7,13.1M641.8,19.9L651.3,22.5M649.0,20.4L651.3,22.5L647.3,22.8M641.8,29.5L650.8,32.4M648.7,30.3L650.8,32.4L646.9,32.6M641.8,39.2L650.2,42.3M648.4,40.2L650.2,42.3L646.5,42.3M641.8,48.9L649.5,52.2M648.0,50.2L649.5,52.2L645.9,52.1M641.8,58.6L648.7,62.2M647.5,60.1L648.7,62.2L645.3,61.9M641.8,68.3L647.6,72.2M646.9,70.2L647.6,72.2L644.5,71.6M641.8,77.9L646.4,82.3M646.2,80.3L646.4,82.3L643.5,81.4M641.8,87.6L644.8,92.3M645.2,90.4L644.8,92.3L642.4,91.1M641.8,97.3L642.9,102.2M644.0,100.4L642.9,102.2L641.0,100.7M641.8,107.0L640.8,111.8M642.7,110.4L640.8,111.8L639.6,110.1M641.8,116.7L638.9,121.3M641.3,120.2L638.9,121.3L638.4,119.4M641.8,126.4L637.3,130.7M640.1,129.8L637.3,130.7L637.5,128.7M641.8,136.0L636.0,140.0M639.2,139.4L636.0,140.0L636.7,137.9M641.8,145.7L635.0,149.3M638.4,149.0L635.0,149.3L636.1,147.3M641.8,155.4L634.2,158.7M637.7,158.6L634.2,158.7L635.7,156.6M641.8,165.1L633.5,168.1M637.2,168.2L633.5,168.1L635.3,166.1M641.8,174.8L632.9,177.6M636.7,177.8L632.9,177.6L635.0,175.5M641.8,184.4L632.4,187.1M636.3,187.4L632.4,187.1L634.7,185.0M641.8,194.1L631.9,196.6M636.0,197.0L631.9,196.6L634.4,194.5M655.8,10.2L664.1,15.4M663.0,12.6L664.1,15.4L659.8,14.7M655.8,19.9L663.5,25.2M662.7,22.5L663.5,25.2L659.3,24.4M655.8,29.5L662.9,35.1M662.3,32.4L662.9,35.1L658.8,34.2M655.8,39.2L662.2,45.0M661.9,42.3L662.2,45.0L658.3,43.9M655.8,48.9L661.4,54.9M661.4,52.2L661.4,54.9L657.7,53.6M655.8,58.6L660.5,64.7M660.9,62.1L660.5,64.7L657.0,63.3M655.8,68.3L659.6,74.6M660.3,72.0L659.6,74.6L656.4,73.0M655.8,77.9L658.5,84.4M659.6,81.9L658.5,84.4L655.7,82.6M655.8,87.6L657.5,94.2M659.0,91.8L657.5,94.2L654.9,92.2M655.8,97.3L656.4,103.9M658.2,101.7L656.4,103.9L654.2,101.8M655.8,107.0L655.3,113.6M657.5,111.5L655.3,113.6L653.4,111.3M655.8,116.7L654.2,123.2M656.7,121.3L654.2,123.2L652.7,120.8M655.8,126.4L653.1,132.8M656.0,131.0L653.1,132.8L652.0,130.3M655.8,136.0L652.1,142.3M655.3,140.7L652.1,142.3L651.4,139.8M655.8,145.7L651.2,151.9M654.6,150.4L651.2,151.9L650.8,149.2M655.8,155.4L650.3,161.4M654.0,160.1L650.3,161.4L650.3,158.7M655.8,165.1L649.5,170.8M653.4,169.7L649.5,170.8L649.8,168.1M655.8,174.8L648.8,180.3M652.8,179.4L648.8,180.3L649.4,177.6M655.8,184.4L648.1,189.8M652.3,189.0L648.1,189.8L649.0,187.1M655.8,194.1L647.5,199.3M651.9,198.6L647.5,199.3L648.6,196.5M669.8,10.2L676.3,17.4M676.4,14.2L676.3,17.4L671.9,15.9M669.8,19.9L675.7,27.3M676.1,24.1L675.7,27.3L671.5,25.6M669.8,29.5L675.1,37.1M675.7,33.9L675.1,37.1L671.0,35.2M669.8,39.2L674.5,46.8M675.3,43.7L674.5,46.8L670.6,44.9M669.8,48.9L673.8,56.6M674.9,53.6L673.8,56.6L670.1,54.6M669.8,58.6L673.1,66.4M674.4,63.4L673.1,66.4L669.6,64.2M669.8,68.3L672.4,76.1M674.0,73.2L672.4,76.1L669.1,73.9M669.8,77.9L671.7,85.9M673.5,83.0L671.7,85.9L668.6,83.5M669.8,87.6L670.9,95.6M673.0,92.8L670.9,95.6L668.1,93.1M669.8,97.3L670.2,105.3M672.5,102.6L670.2,105.3L667.6,102.7M669.8,107.0L669.4,115.0M672.0,112.4L669.4,115.0L667.1,112.3M669.8,116.7L668.7,124.6M671.5,122.2L668.7,124.6L666.6,121.9M669.8,126.4L667.9,134.3M671.0,131.9L667.9,134.3L666.1,131.4M669.8,136.0L667.2,143.9M670.5,141.6L667.2,143.9L665.6,141.0M669.8,145.7L666.5,153.5M670.0,151.4L666.5,153.5L665.2,150.5M669.8,155.4L665.8,163.1M669.5,161.1L665.8,163.1L664.7,160.1M669.8,165.1L665.1,172.7M669.0,170.8L665.1,172.7L664.3,169.6M669.8,174.8L664.5,182.3M668.6,180.5L664.5,182.3L663.9,179.1M669.8,184.4L663.9,191.8M668.1,190.1L663.9,191.8L663.5,188.6M669.8,194.1L663.3,201.4M667.7,199.8L663.3,201.4L663.2,198.2" stroke="#b0b0b0" stroke-width="0.6" fill="none"/>
<g clip-path="url(#cg)"><g stroke="#00d000" stroke-width="1.3" fill="none" transform="translate(0,-0.75)"><path d="M630.4,36.9L638.4,38 645.7,40.7 652.1,44.9 657.9,50.8 662.8,58.1 666.9,66.8 670,76.9 672,87.8 672.9,99.7 672.5,111.9 670.9,123.6 668,134.5 664.1,143.9 659.2,151.9 653.4,158.4 646.7,163.1 642,165.3 637.1,166.7 631.7,167.4 626.2,167.5 620.2,166.7 613.9,165.3 607.3,163.2 600.2,160.3 587.2,153.6 572.7,144.6 558.7,134.9 526.3,111.6 512.4,102.3 528.2,91.5 567.2,63.5 579,55.7 589.3,49.7 601,43.8 611.6,39.8 621.4,37.4 630.4,36.9Z"/><path d="M471.3,84.4L479.8,86.1 489.6,89.7 500.6,95.1 512.3,102.3 495.2,112.1 487.7,115.5 480.6,118 474.2,119.6 468.2,120.1 462.9,119.7 458.4,118.3 455.4,116.7 452.8,114.6 450.7,112.1 449.2,109.2 448.2,105.8 447.8,102.5 448.1,99.1 449,95.8 450.4,92.8 452.3,90.3 454.6,88.2 457.3,86.6 460.3,85.3 463.7,84.6 471.3,84.4Z"/></g></g>
<g stroke="#1010ff" stroke-width="1.0" fill="none"><path d="M398.7,206.8L392.5,197.2 387,186"/><path d="M387,18.4L392.6,7.1 398.8,-2.5"/><path d="M631.2,25.6L640.3,26.9 644.6,28.3 648.7,30.2 652.5,32.6 656.2,35.4 662.6,42.3 668.2,51.1 672.9,61.8 676.3,74 678.4,87 679.3,101.4 678.6,115.9 676.5,129.7 673,142.3 668.2,153.4 662.4,162.4 659.1,166.2 655.5,169.5 651.9,172.3 647.8,174.6 640.1,177.5 631.5,178.8 622.3,178.5 612,176.5 602.8,173.7 592.7,169.8 559.9,154.5 548.2,149.6 536.6,145.7 525.9,143.3 516.6,142.4 507,142.5 478.5,145.6 469.7,146.1 462,145.9 455.4,144.9 447.6,142.3 441,138.2 435.4,132.6 430.9,125.5 427.7,117 426,107.7 425.9,97.9 427.4,88.4 430.4,80 434.7,72.7 440.1,66.9 446.8,62.6 451,60.8 455.6,59.5 465.9,58.3 476.8,58.7 499.1,61.3 508.9,62 519.6,61.8 529.7,60.4 539.8,57.8 550.9,53.7 588.9,36.3 603.7,30.4 611.4,28 618.4,26.5 625.1,25.7 631.2,25.6Z"/><path d="M631,33.7L639.4,35 647.2,38.1 654,42.9 660,49.5 665.2,57.7 669.3,67.5 672.3,78.6 674.2,90.7 674.7,103.7 673.9,116.7 671.6,129.1 668.2,140 663.6,149.6 657.9,157.6 651.3,163.6 643.9,167.8 635.8,170.1 626.8,170.7 616.9,169.3 606,166.1 596.1,162 585,156.4 541.9,131.3 533.1,127.2 525.2,124.5 516.9,123 508.3,122.9 499.9,124.1 476.3,128.9 469.1,129.5 462.6,129.2 455.6,127.5 449.6,124.3 444.9,119.6 441.5,113.8 439.9,108.5 439.2,102.9 439.6,97.2 441,92 443.2,87.2 446.4,83 450.2,79.7 454.6,77.3 461.6,75.4 469.9,74.9 479.6,76 499.1,80.2 507,81.3 515.8,81.5 524.1,80.2 532.7,77.3 542.6,72.7 582.1,49.7 599.4,41 608.2,37.5 616.3,35.2 624,33.9 631,33.7Z"/><path d="M471.3,87.6L475.7,88.4 480.4,89.9 485,92 489.2,94.5 492.2,97 494.1,99.5 494.8,101.8 494.4,104.1 492.5,107.1 489,110 484.4,112.7 478.9,115 473.8,116.4 468.9,117 464.4,116.8 460.3,115.7 457.7,114.4 455.4,112.6 453.4,110.4 452.1,108.1 451.2,105.4 450.9,102.5 451.1,99.5 451.9,96.8 454.7,92.4 456.9,90.5 459.2,89.2 464.8,87.6 471.3,87.6Z"/><path d="M630.1,38.4L634.7,38.8 639.2,39.7 643.3,41.2 647.2,43.2 651,45.8 654.4,48.8 657.6,52.4 660.5,56.4 663.2,61.1 665.6,66.2 669.2,77.6 671.5,90.3 672.1,103.7 671.1,116.9 668.6,129.3 664.6,140.4 659.4,149.7 656.4,153.5 653,156.9 649.5,159.8 645.7,162.1 641.8,163.9 637.5,165.1 633,165.9 628.3,166.1 622.9,165.7 617.4,164.7 611.6,163.1 605.4,160.8 592,154.4 577.3,145.4 558.3,131.6 549.4,124.3 542.4,118 537.8,113.1 534.8,109.2 533,105.4 532.5,102 533.2,98.5 535.2,94.7 538.5,90.5 543.4,85.5 551,78.8 560.3,71.2 579.7,57.4 594.2,48.8 607.4,42.8 613.5,40.7 619.3,39.3 624.9,38.5 630.1,38.4Z"/><path d="M468,93L473.1,93.8 477.9,96 481,99.1 481.8,100.8 482,102.5 481.6,104.1 480.7,105.8 477.2,108.8 472.1,110.8 466.9,111.3 462.7,110.4 459.5,108.3 457.4,105.2 456.9,101.6 457.9,98.1 460.3,95.4 463.7,93.6 468,93Z"/><path d="M632,42.8L636.2,43.4 640.3,44.5 644.2,46.1 647.8,48.2 651.2,50.8 654.3,53.9 659.8,61.4 664.3,70.8 667.5,81.7 669.2,93.7 669.5,106.2 668.3,118.2 665.7,129.5 661.7,139.5 656.6,147.7 650.6,154.1 647.3,156.5 643.7,158.5 639.9,160.1 635.8,161.1 627.2,161.7 621.9,161.2 616.1,160 610.1,158 603.9,155.5 590.8,148.3 577.5,138.9 565.5,128.4 560.6,123.2 556.7,118.4 553.8,113.8 551.9,109.6 550.8,105.4 550.5,101.4 551.1,97.2 552.7,92.8 555.2,88.2 558.7,83.4 563.4,78.2 569.2,72.5 575.8,66.8 582.9,61.4 596.6,52.6 603.2,49.2 609.4,46.6 615.4,44.6 621.2,43.3 626.8,42.7 632,42.8Z"/><path d="M631.1,50.3L638.6,51.7 645.2,54.9 651.1,59.7 656,66.2 660.1,74.4 663,83.8 664.7,94.3 665,105 664,115.5 661.7,125.5 658.3,134.1 653.8,141.5 648.4,147.1 642.2,151.2 635.4,153.5 627.7,154.2 622.9,153.7 618,152.7 607.7,148.8 597.2,142.7 587.2,134.9 578.9,126.3 572.9,117.8 570.9,113.6 569.5,109.4 568.7,105.2 568.6,101.2 569,97 570.2,92.8 571.9,88.6 574.4,84.2 577.5,79.8 581.4,75.2 590.5,66.6 600.9,59.3 611.6,53.9 616.7,52.1 621.7,50.9 626.6,50.3 631.1,50.3Z"/><path d="M630.2,61.2L636.2,62.2 641.6,64.6 646.5,68.4 650.7,73.6 654,79.8 656.5,87.4 658,95.6 658.3,103.9 657.5,112.1 655.7,119.9 652.9,126.9 649.3,132.8 644.9,137.5 639.9,140.7 634.3,142.7 628.1,143.2 620.8,142.1 613.3,139.3 605.8,134.8 598.9,129 593.3,122.4 589.3,115.5 587,108.5 586.3,101.4 587.4,94.3 590.2,87.2 594.6,80.3 600.6,73.8 607.7,68.2 615.4,64.1 622.9,61.8 630.2,61.2Z"/><path d="M631.1,78L634.7,78.9 637.9,80.7 640.9,83.4 643.3,86.6 645.2,90.7 646.5,95.1 647.2,100 647.2,104.8 646.5,109.4 645.2,113.8 643.3,117.8 640.9,121 638.2,123.6 634.9,125.4 631.5,126.4 627.7,126.6 623.4,125.7 619.3,123.9 615.4,121.2 612,117.8 609.3,113.8 607.5,109.6 606.5,105.2 606.4,100.6 607.2,96 608.8,91.6 611.4,87.4 614.7,83.8 618.6,80.9 622.7,78.9 627,77.9 631.1,78Z"/><path d="M630.4,91.6L633.4,93 635.8,95.8 637.1,99.5 637.3,103.7 636.2,107.7 634.3,110.6 631.4,112.5 628.1,113 624.5,111.7 621.7,109 619.9,105.2 619.6,101 620.8,96.9 623.4,93.6 626.8,91.7 630.4,91.6Z"/></g>
<g stroke="#1a3cf0" stroke-width="1.15" fill="none"><path d="M630.4,36.9L638.4,38 645.7,40.7 652.1,44.9 657.9,50.8 662.8,58.1 666.9,66.8 670,76.9 672,87.8 672.9,99.7 672.5,111.9 670.9,123.6 668,134.5 664.1,143.9 659.2,151.9 653.4,158.4 646.7,163.1 642,165.3 637.1,166.7 631.7,167.4 626.2,167.5 620.2,166.7 613.9,165.3 607.3,163.2 600.2,160.3 587.2,153.6 572.7,144.6 558.7,134.9 526.3,111.6 512.4,102.3 528.2,91.5 567.2,63.5 579,55.7 589.3,49.7 601,43.8 611.6,39.8 621.4,37.4 630.4,36.9Z"/><path d="M471.3,84.4L479.8,86.1 489.6,89.7 500.6,95.1 512.3,102.3 495.2,112.1 487.7,115.5 480.6,118 474.2,119.6 468.2,120.1 462.9,119.7 458.4,118.3 455.4,116.7 452.8,114.6 450.7,112.1 449.2,109.2 448.2,105.8 447.8,102.5 448.1,99.1 449,95.8 450.4,92.8 452.3,90.3 454.6,88.2 457.3,86.6 460.3,85.3 463.7,84.6 471.3,84.4Z"/></g>
</g>
<path d="M440.4,203.8v-2.5M440.4,0.5v2.5M512.4,203.8v-2.5M512.4,0.5v2.5M584.4,203.8v-2.5M584.4,0.5v2.5M656.4,203.8v-2.5M656.4,0.5v2.5M390.0,194.3h2.5M683.8,194.3h-2.5M390.0,171.2h2.5M683.8,171.2h-2.5M390.0,148.2h2.5M683.8,148.2h-2.5M390.0,125.2h2.5M683.8,125.2h-2.5M390.0,102.2h2.5M683.8,102.2h-2.5M390.0,79.2h2.5M683.8,79.2h-2.5M390.0,56.2h2.5M683.8,56.2h-2.5M390.0,33.2h2.5M683.8,33.2h-2.5M390.0,10.1h2.5M683.8,10.1h-2.5" stroke="#444" stroke-width="0.8" fill="none"/>
<ellipse cx="90.9" cy="105.0" rx="2.45" ry="2.0" fill="#f00"/>
<ellipse cx="230.0" cy="104.9" rx="2.45" ry="2.0" fill="#f00"/>
<ellipse cx="283.4" cy="104.9" rx="2.45" ry="2.0" fill="#f00"/>
<ellipse cx="467.6" cy="102.1" rx="2.45" ry="2.0" fill="#f00"/>
<ellipse cx="512.0" cy="102.1" rx="2.45" ry="2.0" fill="#f00"/>
<ellipse cx="628.6" cy="102.1" rx="2.45" ry="2.0" fill="#f00"/>
<text transform="translate(23.90,199.73) scale(1.19,1)" text-anchor="end" font-family="Liberation Sans" font-size="10.5" font-weight="bold" fill="#000">−2</text>
<text transform="translate(23.90,176.99) scale(1.19,1)" text-anchor="end" font-family="Liberation Sans" font-size="10.5" font-weight="bold" fill="#000">−1.5</text>
<text transform="translate(23.90,154.24) scale(1.19,1)" text-anchor="end" font-family="Liberation Sans" font-size="10.5" font-weight="bold" fill="#000">−1</text>
<text transform="translate(23.90,131.50) scale(1.19,1)" text-anchor="end" font-family="Liberation Sans" font-size="10.5" font-weight="bold" fill="#000">−0.5</text>
<text transform="translate(23.90,108.75) scale(1.19,1)" text-anchor="end" font-family="Liberation Sans" font-size="10.5" font-weight="bold" fill="#000">0</text>
<text transform="translate(23.90,86.00) scale(1.19,1)" text-anchor="end" font-family="Liberation Sans" font-size="10.5" font-weight="bold" fill="#000">0.5</text>
<text transform="translate(23.90,63.26) scale(1.19,1)" text-anchor="end" font-family="Liberation Sans" font-size="10.5" font-weight="bold" fill="#000">1</text>
<text transform="translate(23.90,40.52) scale(1.19,1)" text-anchor="end" font-family="Liberation Sans" font-size="10.5" font-weight="bold" fill="#000">1.5</text>
<text transform="translate(23.90,17.77) scale(1.19,1)" text-anchor="end" font-family="Liberation Sans" font-size="10.5" font-weight="bold" fill="#000">2</text>
<text transform="translate(61.50,216.70) scale(1.19,1)" text-anchor="end" font-family="Liberation Sans" font-size="10.5" font-weight="bold" fill="#000">−2</text>
<text transform="translate(109.60,216.70) scale(1.19,1)" text-anchor="end" font-family="Liberation Sans" font-size="10.5" font-weight="bold" fill="#000">−1.5</text>
<text transform="translate(146.00,216.70) scale(1.19,1)" text-anchor="end" font-family="Liberation Sans" font-size="10.5" font-weight="bold" fill="#000">−1</text>
<text transform="translate(195.50,216.70) scale(1.19,1)" text-anchor="end" font-family="Liberation Sans" font-size="10.5" font-weight="bold" fill="#000">−0.5</text>
<text transform="translate(233.70,216.70) scale(1.19,1)" text-anchor="end" font-family="Liberation Sans" font-size="10.5" font-weight="bold" fill="#000">0</text>
<text transform="translate(282.00,216.70) scale(1.19,1)" text-anchor="end" font-family="Liberation Sans" font-size="10.5" font-weight="bold" fill="#000">0.5</text>
<text transform="translate(318.80,216.70) scale(1.19,1)" text-anchor="end" font-family="Liberation Sans" font-size="10.5" font-weight="bold" fill="#000">1</text>
<text transform="translate(387.80,13.64) scale(1.2,1)" text-anchor="end" font-family="Liberation Mono" font-size="10.0" font-weight="normal" fill="#4a4a4a">2</text>
<text transform="translate(387.80,36.66) scale(1.2,1)" text-anchor="end" font-family="Liberation Mono" font-size="10.0" font-weight="normal" fill="#4a4a4a">1.5</text>
<text transform="translate(387.80,59.67) scale(1.2,1)" text-anchor="end" font-family="Liberation Mono" font-size="10.0" font-weight="normal" fill="#4a4a4a">1</text>
<text transform="translate(387.80,82.69) scale(1.2,1)" text-anchor="end" font-family="Liberation Mono" font-size="10.0" font-weight="normal" fill="#4a4a4a">0.5</text>
<text transform="translate(387.80,105.70) scale(1.2,1)" text-anchor="end" font-family="Liberation Mono" font-size="10.0" font-weight="normal" fill="#4a4a4a">0</text>
<text transform="translate(387.80,128.72) scale(1.2,1)" text-anchor="end" font-family="Liberation Mono" font-size="10.0" font-weight="normal" fill="#4a4a4a">0.5</text>
<text transform="translate(387.80,151.73) scale(1.2,1)" text-anchor="end" font-family="Liberation Mono" font-size="10.0" font-weight="normal" fill="#4a4a4a">−1</text>
<text transform="translate(387.80,174.75) scale(1.2,1)" text-anchor="end" font-family="Liberation Mono" font-size="10.0" font-weight="normal" fill="#4a4a4a">1.5</text>
<text transform="translate(387.80,197.76) scale(1.2,1)" text-anchor="end" font-family="Liberation Mono" font-size="10.0" font-weight="normal" fill="#4a4a4a">−2</text>
<text transform="translate(442.70,213.90) scale(1.2,1)" text-anchor="end" font-family="Liberation Mono" font-size="10.0" font-weight="normal" fill="#4a4a4a">−1</text>
<text transform="translate(515.40,213.90) scale(1.2,1)" text-anchor="end" font-family="Liberation Mono" font-size="10.0" font-weight="normal" fill="#4a4a4a">0</text>
<text transform="translate(587.50,213.90) scale(1.2,1)" text-anchor="end" font-family="Liberation Mono" font-size="10.0" font-weight="normal" fill="#4a4a4a">1</text>
<text transform="translate(659.60,213.90) scale(1.2,1)" text-anchor="end" font-family="Liberation Mono" font-size="10.0" font-weight="normal" fill="#4a4a4a">2</text>
<text transform="translate(173.20,228.60) scale(1.0,1)" text-anchor="start" font-family="Liberation Serif" font-size="13.6" font-weight="bold" fill="#000">ϒ</text>
<text transform="translate(531.80,225.20) scale(1.0,1)" text-anchor="start" font-family="Liberation Serif" font-size="13.6" font-weight="bold" fill="#000">ϒ</text>
<text transform="translate(12.9,103.6) scale(1.18,1) rotate(-90)" text-anchor="end" font-family="Liberation Serif" font-size="14.8" fill="#000">Γ</text>
<text transform="translate(379.6,102.4) scale(1.08,1) rotate(-90)" text-anchor="end" font-family="Liberation Serif" font-size="16.6" fill="#000">Γ</text>
<rect x="53.3" y="8.5" width="90.10000000000001" height="17.6" fill="#fff" stroke="#8a8a8a" stroke-width="1"/><text transform="translate(56.5,19.6) scale(1.137,1)" font-family="Liberation Sans" font-weight="bold" font-size="10.8">center point</text>
<rect x="213.4" y="12.5" width="91.9" height="17.0" fill="#fff" stroke="#8a8a8a" stroke-width="1"/><text transform="translate(216.3,24.0) scale(1.14,1)" font-family="Liberation Sans" font-weight="bold" font-size="10.8">center point</text>
<rect x="157.6" y="174.3" width="91.9" height="18.69999999999999" fill="#fff" stroke="#8a8a8a" stroke-width="1"/><text transform="translate(161.1,185.9) scale(1.132,1)" font-family="Liberation Sans" font-weight="bold" font-size="10.8">saddle point</text>
<rect x="419.2" y="5.5" width="83.10000000000002" height="17.1" fill="#fff" stroke="#8a8a8a" stroke-width="1"/><text transform="translate(422.3,16.4) scale(1.11,1)" font-family="Liberation Sans" font-weight="bold" font-size="10.8">center point</text>
<rect x="556.6" y="3.4" width="80.29999999999995" height="16.700000000000003" fill="#fff" stroke="#8a8a8a" stroke-width="1"/><text transform="translate(560.0,14.8) scale(1.108,1)" font-family="Liberation Sans" font-weight="bold" font-size="10.8">center point</text>
<rect x="449.6" y="165.5" width="84.19999999999993" height="21.30000000000001" fill="#fff" stroke="#8a8a8a" stroke-width="1"/><text transform="translate(452.7,176.8) scale(1.11,1)" font-family="Liberation Sans" font-weight="bold" font-size="10.8">saddle point</text>
<path d="M93.4,29.8L92.0,95.7" stroke="#2a2a2a" stroke-width="0.9" fill="none"/><path d="M91.9,101.7L88.7,94.6L92.0,96.7L95.3,94.8Z" fill="#000"/>
<path d="M265.4,31.5L281.4,95.9" stroke="#2a2a2a" stroke-width="0.9" fill="none"/><path d="M282.8,101.7L277.9,95.7L281.6,96.8L284.3,94.1Z" fill="#000"/>
<path d="M212.7,174.3L226.5,117.7" stroke="#2a2a2a" stroke-width="0.9" fill="none"/><path d="M227.9,111.9L229.4,119.5L226.7,116.8L223.0,117.9Z" fill="#000"/>
<path d="M458.7,24.4L466.1,91.7" stroke="#2a2a2a" stroke-width="0.9" fill="none"/><path d="M466.8,97.7L462.8,91.1L466.2,92.7L469.3,90.4Z" fill="#000"/>
<path d="M606.0,20.3L625.3,92.4" stroke="#2a2a2a" stroke-width="0.9" fill="none"/><path d="M626.8,98.2L621.8,92.3L625.5,93.3L628.2,90.6Z" fill="#000"/>
<path d="M503.3,165.5L510.1,111.3" stroke="#2a2a2a" stroke-width="0.9" fill="none"/><path d="M510.9,105.3L513.3,112.7L510.3,110.3L506.7,111.8Z" fill="#000"/>
<text transform="translate(52.30,254.70) scale(1.06,1)" text-anchor="start" font-family="Liberation Serif" font-size="16.8" font-weight="normal" fill="#262626">(a) Phase plot for scenario (6a).</text>
<text transform="translate(427.40,254.70) scale(1.06,1)" text-anchor="start" font-family="Liberation Serif" font-size="16.8" font-weight="normal" fill="#262626">(b) Phase plot for scenario (6b).</text>
</svg>
</body></html>
